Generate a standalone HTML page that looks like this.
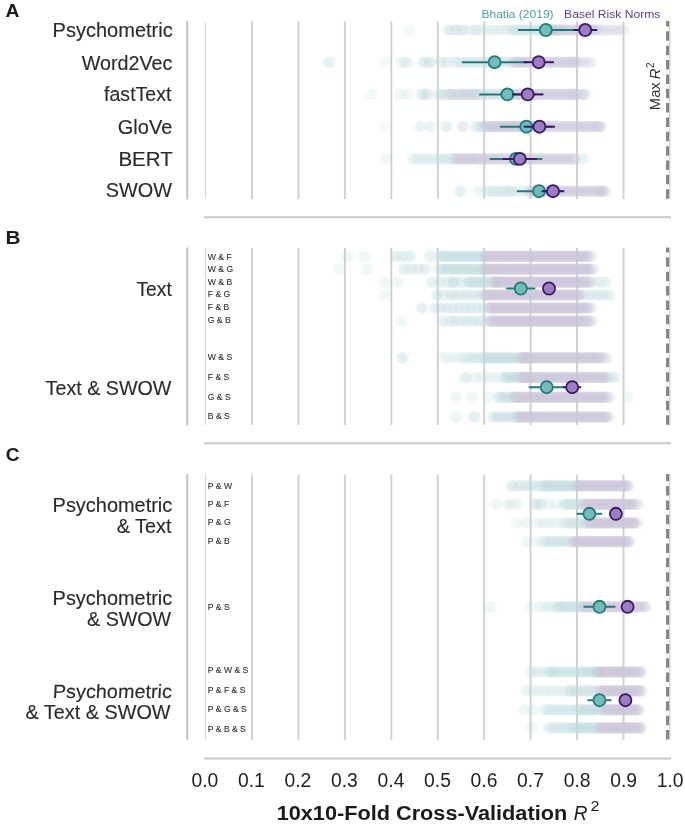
<!DOCTYPE html>
<html><head><meta charset="utf-8"><style>
html,body{margin:0;padding:0;background:#fff;}
svg{display:block;filter:blur(0.35px);font-family:"Liberation Sans", sans-serif;}
</style></head><body>
<svg width="685" height="825" viewBox="0 0 685 825" font-family='"Liberation Sans", sans-serif'>
<rect width="685" height="825" fill="#fff"/>
<line x1="187.2" y1="21.0" x2="187.2" y2="199.5" stroke="#c4c4c4" stroke-width="2"/>
<line x1="205.4" y1="21.5" x2="205.4" y2="199.0" stroke="#d9d9d9" stroke-width="1.3"/>
<line x1="252.0" y1="21.5" x2="252.0" y2="199.0" stroke="#cfcfcf" stroke-width="1.9"/>
<line x1="298.5" y1="21.5" x2="298.5" y2="199.0" stroke="#cfcfcf" stroke-width="1.9"/>
<line x1="344.9" y1="21.5" x2="344.9" y2="199.0" stroke="#cfcfcf" stroke-width="1.9"/>
<line x1="391.3" y1="21.5" x2="391.3" y2="199.0" stroke="#cfcfcf" stroke-width="1.9"/>
<line x1="437.8" y1="21.5" x2="437.8" y2="199.0" stroke="#cfcfcf" stroke-width="1.9"/>
<line x1="484.2" y1="21.5" x2="484.2" y2="199.0" stroke="#cfcfcf" stroke-width="1.9"/>
<line x1="530.6" y1="21.5" x2="530.6" y2="199.0" stroke="#cfcfcf" stroke-width="1.9"/>
<line x1="577.0" y1="21.5" x2="577.0" y2="199.0" stroke="#cfcfcf" stroke-width="1.9"/>
<line x1="623.5" y1="21.5" x2="623.5" y2="199.0" stroke="#cfcfcf" stroke-width="1.9"/>
<line x1="669.8" y1="21.5" x2="669.8" y2="199.0" stroke="#dadada" stroke-width="1.4"/>
<line x1="187.2" y1="247.5" x2="187.2" y2="425.5" stroke="#c4c4c4" stroke-width="2"/>
<line x1="205.4" y1="248.0" x2="205.4" y2="425.0" stroke="#d9d9d9" stroke-width="1.3"/>
<line x1="252.0" y1="248.0" x2="252.0" y2="425.0" stroke="#cfcfcf" stroke-width="1.9"/>
<line x1="298.5" y1="248.0" x2="298.5" y2="425.0" stroke="#cfcfcf" stroke-width="1.9"/>
<line x1="344.9" y1="248.0" x2="344.9" y2="425.0" stroke="#cfcfcf" stroke-width="1.9"/>
<line x1="391.3" y1="248.0" x2="391.3" y2="425.0" stroke="#cfcfcf" stroke-width="1.9"/>
<line x1="437.8" y1="248.0" x2="437.8" y2="425.0" stroke="#cfcfcf" stroke-width="1.9"/>
<line x1="484.2" y1="248.0" x2="484.2" y2="425.0" stroke="#cfcfcf" stroke-width="1.9"/>
<line x1="530.6" y1="248.0" x2="530.6" y2="425.0" stroke="#cfcfcf" stroke-width="1.9"/>
<line x1="577.0" y1="248.0" x2="577.0" y2="425.0" stroke="#cfcfcf" stroke-width="1.9"/>
<line x1="623.5" y1="248.0" x2="623.5" y2="425.0" stroke="#cfcfcf" stroke-width="1.9"/>
<line x1="669.8" y1="248.0" x2="669.8" y2="425.0" stroke="#dadada" stroke-width="1.4"/>
<line x1="187.2" y1="474.0" x2="187.2" y2="740.3" stroke="#c4c4c4" stroke-width="2"/>
<line x1="205.4" y1="474.5" x2="205.4" y2="739.8" stroke="#d9d9d9" stroke-width="1.3"/>
<line x1="252.0" y1="474.5" x2="252.0" y2="739.8" stroke="#cfcfcf" stroke-width="1.9"/>
<line x1="298.5" y1="474.5" x2="298.5" y2="739.8" stroke="#cfcfcf" stroke-width="1.9"/>
<line x1="344.9" y1="474.5" x2="344.9" y2="739.8" stroke="#cfcfcf" stroke-width="1.9"/>
<line x1="391.3" y1="474.5" x2="391.3" y2="739.8" stroke="#cfcfcf" stroke-width="1.9"/>
<line x1="437.8" y1="474.5" x2="437.8" y2="739.8" stroke="#cfcfcf" stroke-width="1.9"/>
<line x1="484.2" y1="474.5" x2="484.2" y2="739.8" stroke="#cfcfcf" stroke-width="1.9"/>
<line x1="530.6" y1="474.5" x2="530.6" y2="739.8" stroke="#cfcfcf" stroke-width="1.9"/>
<line x1="577.0" y1="474.5" x2="577.0" y2="739.8" stroke="#cfcfcf" stroke-width="1.9"/>
<line x1="623.5" y1="474.5" x2="623.5" y2="739.8" stroke="#cfcfcf" stroke-width="1.9"/>
<line x1="669.8" y1="474.5" x2="669.8" y2="739.8" stroke="#dadada" stroke-width="1.4"/>
<filter id="bl" x="-5%" y="-50%" width="110%" height="200%"><feGaussianBlur stdDeviation="1.0 0.5"/></filter>
<g filter="url(#bl)">
<g fill="#bcdadc">
<circle cx="409.2" cy="30.0" r="5.8" fill-opacity="0.18"/>
<circle cx="449.0" cy="30.0" r="5.8" fill-opacity="0.42"/>
<circle cx="456.0" cy="30.0" r="5.8" fill-opacity="0.42"/>
<circle cx="462.5" cy="30.0" r="5.8" fill-opacity="0.42"/>
<circle cx="470.0" cy="30.0" r="5.8" fill-opacity="0.25"/>
<circle cx="476.0" cy="30.0" r="5.8" fill-opacity="0.4"/>
<circle cx="482.0" cy="30.0" r="5.8" fill-opacity="0.25"/>
<circle cx="488.0" cy="30.0" r="5.8" fill-opacity="0.28"/>
<circle cx="494.0" cy="30.0" r="5.8" fill-opacity="0.28"/>
<circle cx="500.0" cy="30.0" r="5.8" fill-opacity="0.28"/>
<circle cx="506.0" cy="30.0" r="5.8" fill-opacity="0.28"/>
<circle cx="512.0" cy="30.0" r="5.8" fill-opacity="0.28"/>
<circle cx="514.0" cy="30.0" r="5.8" fill-opacity="0.34"/>
<circle cx="518.0" cy="30.0" r="5.8" fill-opacity="0.34"/>
<circle cx="522.0" cy="30.0" r="5.8" fill-opacity="0.34"/>
<circle cx="526.0" cy="30.0" r="5.8" fill-opacity="0.34"/>
<circle cx="530.0" cy="30.0" r="5.8" fill-opacity="0.34"/>
<circle cx="534.0" cy="30.0" r="5.8" fill-opacity="0.34"/>
<circle cx="538.0" cy="30.0" r="5.8" fill-opacity="0.34"/>
<circle cx="542.0" cy="30.0" r="5.8" fill-opacity="0.34"/>
<circle cx="546.0" cy="30.0" r="5.8" fill-opacity="0.34"/>
<circle cx="550.0" cy="30.0" r="5.8" fill-opacity="0.34"/>
<circle cx="554.0" cy="30.0" r="5.8" fill-opacity="0.34"/>
<circle cx="558.0" cy="30.0" r="5.8" fill-opacity="0.34"/>
<circle cx="329.3" cy="62.2" r="5.8" fill-opacity="0.38"/>
<circle cx="385.4" cy="62.2" r="5.8" fill-opacity="0.15"/>
<circle cx="402.0" cy="62.2" r="5.8" fill-opacity="0.3"/>
<circle cx="407.0" cy="62.2" r="5.8" fill-opacity="0.3"/>
<circle cx="424.0" cy="62.2" r="5.8" fill-opacity="0.42"/>
<circle cx="430.0" cy="62.2" r="5.8" fill-opacity="0.45"/>
<circle cx="441.0" cy="62.2" r="5.8" fill-opacity="0.35"/>
<circle cx="447.0" cy="62.2" r="5.8" fill-opacity="0.35"/>
<circle cx="455.0" cy="62.2" r="5.8" fill-opacity="0.35"/>
<circle cx="460.0" cy="62.2" r="5.8" fill-opacity="0.34"/>
<circle cx="465.0" cy="62.2" r="5.8" fill-opacity="0.34"/>
<circle cx="470.0" cy="62.2" r="5.8" fill-opacity="0.34"/>
<circle cx="475.0" cy="62.2" r="5.8" fill-opacity="0.34"/>
<circle cx="480.0" cy="62.2" r="5.8" fill-opacity="0.34"/>
<circle cx="485.0" cy="62.2" r="5.8" fill-opacity="0.34"/>
<circle cx="490.0" cy="62.2" r="5.8" fill-opacity="0.34"/>
<circle cx="495.0" cy="62.2" r="5.8" fill-opacity="0.34"/>
<circle cx="500.0" cy="62.2" r="5.8" fill-opacity="0.34"/>
<circle cx="505.0" cy="62.2" r="5.8" fill-opacity="0.34"/>
<circle cx="510.0" cy="62.2" r="5.8" fill-opacity="0.34"/>
<circle cx="515.0" cy="62.2" r="5.8" fill-opacity="0.34"/>
<circle cx="520.0" cy="62.2" r="5.8" fill-opacity="0.34"/>
<circle cx="371.2" cy="94.4" r="5.8" fill-opacity="0.2"/>
<circle cx="399.9" cy="94.4" r="5.8" fill-opacity="0.2"/>
<circle cx="407.0" cy="94.4" r="5.8" fill-opacity="0.2"/>
<circle cx="422.3" cy="94.4" r="5.8" fill-opacity="0.42"/>
<circle cx="427.4" cy="94.4" r="5.8" fill-opacity="0.42"/>
<circle cx="440.7" cy="94.4" r="5.8" fill-opacity="0.3"/>
<circle cx="440.0" cy="94.4" r="5.8" fill-opacity="0.3"/>
<circle cx="445.0" cy="94.4" r="5.8" fill-opacity="0.3"/>
<circle cx="450.0" cy="94.4" r="5.8" fill-opacity="0.3"/>
<circle cx="455.0" cy="94.4" r="5.8" fill-opacity="0.3"/>
<circle cx="460.0" cy="94.4" r="5.8" fill-opacity="0.3"/>
<circle cx="465.0" cy="94.4" r="5.8" fill-opacity="0.3"/>
<circle cx="470.0" cy="94.4" r="5.8" fill-opacity="0.3"/>
<circle cx="475.0" cy="94.4" r="5.8" fill-opacity="0.3"/>
<circle cx="476.0" cy="94.4" r="5.8" fill-opacity="0.34"/>
<circle cx="480.0" cy="94.4" r="5.8" fill-opacity="0.34"/>
<circle cx="484.0" cy="94.4" r="5.8" fill-opacity="0.34"/>
<circle cx="488.0" cy="94.4" r="5.8" fill-opacity="0.34"/>
<circle cx="492.0" cy="94.4" r="5.8" fill-opacity="0.34"/>
<circle cx="496.0" cy="94.4" r="5.8" fill-opacity="0.34"/>
<circle cx="500.0" cy="94.4" r="5.8" fill-opacity="0.34"/>
<circle cx="504.0" cy="94.4" r="5.8" fill-opacity="0.34"/>
<circle cx="508.0" cy="94.4" r="5.8" fill-opacity="0.34"/>
<circle cx="512.0" cy="94.4" r="5.8" fill-opacity="0.34"/>
<circle cx="583.0" cy="94.4" r="5.8" fill-opacity="0.35"/>
<circle cx="384.3" cy="126.5" r="5.8" fill-opacity="0.15"/>
<circle cx="420.0" cy="126.5" r="5.8" fill-opacity="0.28"/>
<circle cx="430.3" cy="126.5" r="5.8" fill-opacity="0.28"/>
<circle cx="446.6" cy="126.5" r="5.8" fill-opacity="0.38"/>
<circle cx="476.0" cy="126.5" r="5.8" fill-opacity="0.34"/>
<circle cx="480.0" cy="126.5" r="5.8" fill-opacity="0.34"/>
<circle cx="484.0" cy="126.5" r="5.8" fill-opacity="0.34"/>
<circle cx="488.0" cy="126.5" r="5.8" fill-opacity="0.34"/>
<circle cx="492.0" cy="126.5" r="5.8" fill-opacity="0.34"/>
<circle cx="496.0" cy="126.5" r="5.8" fill-opacity="0.34"/>
<circle cx="500.0" cy="126.5" r="5.8" fill-opacity="0.34"/>
<circle cx="504.0" cy="126.5" r="5.8" fill-opacity="0.34"/>
<circle cx="508.0" cy="126.5" r="5.8" fill-opacity="0.34"/>
<circle cx="512.0" cy="126.5" r="5.8" fill-opacity="0.34"/>
<circle cx="516.0" cy="126.5" r="5.8" fill-opacity="0.34"/>
<circle cx="520.0" cy="126.5" r="5.8" fill-opacity="0.34"/>
<circle cx="524.0" cy="126.5" r="5.8" fill-opacity="0.34"/>
<circle cx="528.0" cy="126.5" r="5.8" fill-opacity="0.34"/>
<circle cx="600.0" cy="126.5" r="5.8" fill-opacity="0.35"/>
<circle cx="386.3" cy="158.9" r="5.8" fill-opacity="0.2"/>
<circle cx="413.0" cy="158.9" r="5.8" fill-opacity="0.28"/>
<circle cx="418.0" cy="158.9" r="5.8" fill-opacity="0.28"/>
<circle cx="423.0" cy="158.9" r="5.8" fill-opacity="0.28"/>
<circle cx="428.0" cy="158.9" r="5.8" fill-opacity="0.28"/>
<circle cx="433.0" cy="158.9" r="5.8" fill-opacity="0.28"/>
<circle cx="439.5" cy="158.9" r="5.8" fill-opacity="0.35"/>
<circle cx="444.5" cy="158.9" r="5.8" fill-opacity="0.35"/>
<circle cx="449.5" cy="158.9" r="5.8" fill-opacity="0.35"/>
<circle cx="454.5" cy="158.9" r="5.8" fill-opacity="0.35"/>
<circle cx="583.0" cy="158.9" r="5.8" fill-opacity="0.3"/>
<circle cx="460.4" cy="191.2" r="5.8" fill-opacity="0.4"/>
<circle cx="479.9" cy="191.2" r="5.8" fill-opacity="0.25"/>
<circle cx="487.0" cy="191.2" r="5.8" fill-opacity="0.3"/>
<circle cx="491.0" cy="191.2" r="5.8" fill-opacity="0.3"/>
<circle cx="495.0" cy="191.2" r="5.8" fill-opacity="0.3"/>
<circle cx="499.0" cy="191.2" r="5.8" fill-opacity="0.3"/>
<circle cx="503.0" cy="191.2" r="5.8" fill-opacity="0.3"/>
<circle cx="507.0" cy="191.2" r="5.8" fill-opacity="0.3"/>
<circle cx="511.0" cy="191.2" r="5.8" fill-opacity="0.3"/>
<circle cx="512.0" cy="191.2" r="5.8" fill-opacity="0.22"/>
<circle cx="517.0" cy="191.2" r="5.8" fill-opacity="0.22"/>
<circle cx="522.0" cy="191.2" r="5.8" fill-opacity="0.22"/>
<circle cx="527.0" cy="191.2" r="5.8" fill-opacity="0.22"/>
<circle cx="601.5" cy="191.2" r="5.8" fill-opacity="0.45"/>
<circle cx="347.0" cy="256.4" r="5.8" fill-opacity="0.22"/>
<circle cx="364.0" cy="256.4" r="5.8" fill-opacity="0.22"/>
<circle cx="396.0" cy="256.4" r="5.8" fill-opacity="0.35"/>
<circle cx="403.0" cy="256.4" r="5.8" fill-opacity="0.35"/>
<circle cx="410.0" cy="256.4" r="5.8" fill-opacity="0.35"/>
<circle cx="430.0" cy="256.4" r="5.8" fill-opacity="0.35"/>
<circle cx="440.0" cy="256.4" r="5.8" fill-opacity="0.42"/>
<circle cx="444.0" cy="256.4" r="5.8" fill-opacity="0.42"/>
<circle cx="448.0" cy="256.4" r="5.8" fill-opacity="0.42"/>
<circle cx="452.0" cy="256.4" r="5.8" fill-opacity="0.42"/>
<circle cx="456.0" cy="256.4" r="5.8" fill-opacity="0.42"/>
<circle cx="460.0" cy="256.4" r="5.8" fill-opacity="0.42"/>
<circle cx="464.0" cy="256.4" r="5.8" fill-opacity="0.42"/>
<circle cx="468.0" cy="256.4" r="5.8" fill-opacity="0.42"/>
<circle cx="472.0" cy="256.4" r="5.8" fill-opacity="0.42"/>
<circle cx="476.0" cy="256.4" r="5.8" fill-opacity="0.42"/>
<circle cx="480.0" cy="256.4" r="5.8" fill-opacity="0.42"/>
<circle cx="484.0" cy="256.4" r="5.8" fill-opacity="0.42"/>
<circle cx="339.0" cy="269.2" r="5.8" fill-opacity="0.22"/>
<circle cx="367.0" cy="269.2" r="5.8" fill-opacity="0.22"/>
<circle cx="404.0" cy="269.2" r="5.8" fill-opacity="0.35"/>
<circle cx="411.0" cy="269.2" r="5.8" fill-opacity="0.35"/>
<circle cx="418.0" cy="269.2" r="5.8" fill-opacity="0.35"/>
<circle cx="425.0" cy="269.2" r="5.8" fill-opacity="0.35"/>
<circle cx="440.0" cy="269.2" r="5.8" fill-opacity="0.42"/>
<circle cx="444.0" cy="269.2" r="5.8" fill-opacity="0.42"/>
<circle cx="448.0" cy="269.2" r="5.8" fill-opacity="0.42"/>
<circle cx="452.0" cy="269.2" r="5.8" fill-opacity="0.42"/>
<circle cx="456.0" cy="269.2" r="5.8" fill-opacity="0.42"/>
<circle cx="460.0" cy="269.2" r="5.8" fill-opacity="0.42"/>
<circle cx="464.0" cy="269.2" r="5.8" fill-opacity="0.42"/>
<circle cx="468.0" cy="269.2" r="5.8" fill-opacity="0.42"/>
<circle cx="472.0" cy="269.2" r="5.8" fill-opacity="0.42"/>
<circle cx="476.0" cy="269.2" r="5.8" fill-opacity="0.42"/>
<circle cx="480.0" cy="269.2" r="5.8" fill-opacity="0.42"/>
<circle cx="484.0" cy="269.2" r="5.8" fill-opacity="0.42"/>
<circle cx="385.0" cy="282.1" r="5.8" fill-opacity="0.22"/>
<circle cx="398.0" cy="282.1" r="5.8" fill-opacity="0.22"/>
<circle cx="432.0" cy="282.1" r="5.8" fill-opacity="0.35"/>
<circle cx="440.0" cy="282.1" r="5.8" fill-opacity="0.35"/>
<circle cx="447.0" cy="282.1" r="5.8" fill-opacity="0.35"/>
<circle cx="454.0" cy="282.1" r="5.8" fill-opacity="0.35"/>
<circle cx="461.0" cy="282.1" r="5.8" fill-opacity="0.35"/>
<circle cx="468.0" cy="282.1" r="5.8" fill-opacity="0.35"/>
<circle cx="453.0" cy="282.1" r="5.8" fill-opacity="0.35"/>
<circle cx="470.0" cy="282.1" r="5.8" fill-opacity="0.42"/>
<circle cx="474.0" cy="282.1" r="5.8" fill-opacity="0.42"/>
<circle cx="478.0" cy="282.1" r="5.8" fill-opacity="0.42"/>
<circle cx="482.0" cy="282.1" r="5.8" fill-opacity="0.42"/>
<circle cx="486.0" cy="282.1" r="5.8" fill-opacity="0.42"/>
<circle cx="490.0" cy="282.1" r="5.8" fill-opacity="0.42"/>
<circle cx="494.0" cy="282.1" r="5.8" fill-opacity="0.42"/>
<circle cx="498.0" cy="282.1" r="5.8" fill-opacity="0.42"/>
<circle cx="600.0" cy="282.1" r="5.8" fill-opacity="0.3"/>
<circle cx="606.0" cy="282.1" r="5.8" fill-opacity="0.3"/>
<circle cx="385.0" cy="295.0" r="5.8" fill-opacity="0.22"/>
<circle cx="437.0" cy="295.0" r="5.8" fill-opacity="0.35"/>
<circle cx="444.0" cy="295.0" r="5.8" fill-opacity="0.35"/>
<circle cx="451.0" cy="295.0" r="5.8" fill-opacity="0.35"/>
<circle cx="455.0" cy="295.0" r="5.8" fill-opacity="0.35"/>
<circle cx="461.0" cy="295.0" r="5.8" fill-opacity="0.35"/>
<circle cx="467.0" cy="295.0" r="5.8" fill-opacity="0.35"/>
<circle cx="473.0" cy="295.0" r="5.8" fill-opacity="0.35"/>
<circle cx="479.0" cy="295.0" r="5.8" fill-opacity="0.35"/>
<circle cx="485.0" cy="295.0" r="5.8" fill-opacity="0.35"/>
<circle cx="585.0" cy="295.0" r="5.8" fill-opacity="0.35"/>
<circle cx="591.0" cy="295.0" r="5.8" fill-opacity="0.35"/>
<circle cx="597.0" cy="295.0" r="5.8" fill-opacity="0.35"/>
<circle cx="603.0" cy="295.0" r="5.8" fill-opacity="0.35"/>
<circle cx="609.0" cy="295.0" r="5.8" fill-opacity="0.35"/>
<circle cx="422.0" cy="308.0" r="5.8" fill-opacity="0.35"/>
<circle cx="435.0" cy="308.0" r="5.8" fill-opacity="0.35"/>
<circle cx="441.0" cy="308.0" r="5.8" fill-opacity="0.35"/>
<circle cx="447.0" cy="308.0" r="5.8" fill-opacity="0.35"/>
<circle cx="453.0" cy="308.0" r="5.8" fill-opacity="0.35"/>
<circle cx="459.0" cy="308.0" r="5.8" fill-opacity="0.35"/>
<circle cx="465.0" cy="308.0" r="5.8" fill-opacity="0.35"/>
<circle cx="471.0" cy="308.0" r="5.8" fill-opacity="0.35"/>
<circle cx="477.0" cy="308.0" r="5.8" fill-opacity="0.35"/>
<circle cx="483.0" cy="308.0" r="5.8" fill-opacity="0.35"/>
<circle cx="489.0" cy="308.0" r="5.8" fill-opacity="0.35"/>
<circle cx="401.0" cy="321.1" r="5.8" fill-opacity="0.22"/>
<circle cx="443.0" cy="321.1" r="5.8" fill-opacity="0.35"/>
<circle cx="451.0" cy="321.1" r="5.8" fill-opacity="0.35"/>
<circle cx="455.0" cy="321.1" r="5.8" fill-opacity="0.35"/>
<circle cx="461.0" cy="321.1" r="5.8" fill-opacity="0.35"/>
<circle cx="467.0" cy="321.1" r="5.8" fill-opacity="0.35"/>
<circle cx="473.0" cy="321.1" r="5.8" fill-opacity="0.35"/>
<circle cx="479.0" cy="321.1" r="5.8" fill-opacity="0.35"/>
<circle cx="485.0" cy="321.1" r="5.8" fill-opacity="0.35"/>
<circle cx="402.3" cy="357.9" r="5.8" fill-opacity="0.4"/>
<circle cx="443.0" cy="357.9" r="5.8" fill-opacity="0.22"/>
<circle cx="449.0" cy="357.9" r="5.8" fill-opacity="0.22"/>
<circle cx="455.0" cy="357.9" r="5.8" fill-opacity="0.22"/>
<circle cx="461.0" cy="357.9" r="5.8" fill-opacity="0.22"/>
<circle cx="466.0" cy="357.9" r="5.8" fill-opacity="0.35"/>
<circle cx="471.0" cy="357.9" r="5.8" fill-opacity="0.35"/>
<circle cx="476.0" cy="357.9" r="5.8" fill-opacity="0.35"/>
<circle cx="481.0" cy="357.9" r="5.8" fill-opacity="0.35"/>
<circle cx="485.0" cy="357.9" r="5.8" fill-opacity="0.42"/>
<circle cx="488.5" cy="357.9" r="5.8" fill-opacity="0.42"/>
<circle cx="492.0" cy="357.9" r="5.8" fill-opacity="0.42"/>
<circle cx="495.5" cy="357.9" r="5.8" fill-opacity="0.42"/>
<circle cx="499.0" cy="357.9" r="5.8" fill-opacity="0.42"/>
<circle cx="502.5" cy="357.9" r="5.8" fill-opacity="0.42"/>
<circle cx="506.0" cy="357.9" r="5.8" fill-opacity="0.42"/>
<circle cx="509.5" cy="357.9" r="5.8" fill-opacity="0.42"/>
<circle cx="513.0" cy="357.9" r="5.8" fill-opacity="0.42"/>
<circle cx="516.5" cy="357.9" r="5.8" fill-opacity="0.42"/>
<circle cx="520.0" cy="357.9" r="5.8" fill-opacity="0.42"/>
<circle cx="523.5" cy="357.9" r="5.8" fill-opacity="0.42"/>
<circle cx="527.0" cy="357.9" r="5.8" fill-opacity="0.42"/>
<circle cx="465.4" cy="377.5" r="5.8" fill-opacity="0.4"/>
<circle cx="475.0" cy="377.5" r="5.8" fill-opacity="0.22"/>
<circle cx="481.0" cy="377.5" r="5.8" fill-opacity="0.22"/>
<circle cx="487.0" cy="377.5" r="5.8" fill-opacity="0.22"/>
<circle cx="493.0" cy="377.5" r="5.8" fill-opacity="0.22"/>
<circle cx="499.0" cy="377.5" r="5.8" fill-opacity="0.22"/>
<circle cx="505.0" cy="377.5" r="5.8" fill-opacity="0.22"/>
<circle cx="506.0" cy="377.5" r="5.8" fill-opacity="0.42"/>
<circle cx="509.5" cy="377.5" r="5.8" fill-opacity="0.42"/>
<circle cx="513.0" cy="377.5" r="5.8" fill-opacity="0.42"/>
<circle cx="516.5" cy="377.5" r="5.8" fill-opacity="0.42"/>
<circle cx="520.0" cy="377.5" r="5.8" fill-opacity="0.42"/>
<circle cx="523.5" cy="377.5" r="5.8" fill-opacity="0.42"/>
<circle cx="527.0" cy="377.5" r="5.8" fill-opacity="0.42"/>
<circle cx="605.0" cy="377.5" r="5.8" fill-opacity="0.35"/>
<circle cx="610.0" cy="377.5" r="5.8" fill-opacity="0.35"/>
<circle cx="615.0" cy="377.5" r="5.8" fill-opacity="0.35"/>
<circle cx="456.0" cy="397.3" r="5.8" fill-opacity="0.22"/>
<circle cx="472.0" cy="397.3" r="5.8" fill-opacity="0.22"/>
<circle cx="488.0" cy="397.3" r="5.8" fill-opacity="0.22"/>
<circle cx="498.0" cy="397.3" r="5.8" fill-opacity="0.22"/>
<circle cx="500.0" cy="397.3" r="5.8" fill-opacity="0.35"/>
<circle cx="503.5" cy="397.3" r="5.8" fill-opacity="0.35"/>
<circle cx="507.0" cy="397.3" r="5.8" fill-opacity="0.35"/>
<circle cx="510.5" cy="397.3" r="5.8" fill-opacity="0.35"/>
<circle cx="514.0" cy="397.3" r="5.8" fill-opacity="0.35"/>
<circle cx="628.0" cy="397.3" r="5.8" fill-opacity="0.22"/>
<circle cx="456.0" cy="417.0" r="5.8" fill-opacity="0.22"/>
<circle cx="474.6" cy="417.0" r="5.8" fill-opacity="0.4"/>
<circle cx="493.0" cy="417.0" r="5.8" fill-opacity="0.35"/>
<circle cx="497.0" cy="417.0" r="5.8" fill-opacity="0.35"/>
<circle cx="501.0" cy="417.0" r="5.8" fill-opacity="0.35"/>
<circle cx="505.0" cy="417.0" r="5.8" fill-opacity="0.35"/>
<circle cx="509.0" cy="417.0" r="5.8" fill-opacity="0.35"/>
<circle cx="513.0" cy="417.0" r="5.8" fill-opacity="0.35"/>
<circle cx="517.0" cy="417.0" r="5.8" fill-opacity="0.35"/>
<circle cx="521.0" cy="417.0" r="5.8" fill-opacity="0.35"/>
<circle cx="525.0" cy="417.0" r="5.8" fill-opacity="0.35"/>
<circle cx="529.0" cy="417.0" r="5.8" fill-opacity="0.35"/>
<circle cx="512.0" cy="485.9" r="5.8" fill-opacity="0.42"/>
<circle cx="519.0" cy="485.9" r="5.8" fill-opacity="0.42"/>
<circle cx="526.0" cy="485.9" r="5.8" fill-opacity="0.35"/>
<circle cx="531.0" cy="485.9" r="5.8" fill-opacity="0.35"/>
<circle cx="536.0" cy="485.9" r="5.8" fill-opacity="0.35"/>
<circle cx="541.0" cy="485.9" r="5.8" fill-opacity="0.35"/>
<circle cx="546.0" cy="485.9" r="5.8" fill-opacity="0.35"/>
<circle cx="546.0" cy="485.9" r="5.8" fill-opacity="0.42"/>
<circle cx="549.5" cy="485.9" r="5.8" fill-opacity="0.42"/>
<circle cx="553.0" cy="485.9" r="5.8" fill-opacity="0.42"/>
<circle cx="556.5" cy="485.9" r="5.8" fill-opacity="0.42"/>
<circle cx="560.0" cy="485.9" r="5.8" fill-opacity="0.42"/>
<circle cx="563.5" cy="485.9" r="5.8" fill-opacity="0.42"/>
<circle cx="567.0" cy="485.9" r="5.8" fill-opacity="0.42"/>
<circle cx="570.5" cy="485.9" r="5.8" fill-opacity="0.42"/>
<circle cx="574.0" cy="485.9" r="5.8" fill-opacity="0.42"/>
<circle cx="577.5" cy="485.9" r="5.8" fill-opacity="0.42"/>
<circle cx="496.0" cy="504.3" r="5.8" fill-opacity="0.22"/>
<circle cx="507.0" cy="504.3" r="5.8" fill-opacity="0.22"/>
<circle cx="511.0" cy="504.3" r="5.8" fill-opacity="0.22"/>
<circle cx="517.0" cy="504.3" r="5.8" fill-opacity="0.22"/>
<circle cx="536.0" cy="504.3" r="5.8" fill-opacity="0.45"/>
<circle cx="541.0" cy="504.3" r="5.8" fill-opacity="0.4"/>
<circle cx="549.0" cy="504.3" r="5.8" fill-opacity="0.22"/>
<circle cx="557.0" cy="504.3" r="5.8" fill-opacity="0.22"/>
<circle cx="565.0" cy="504.3" r="5.8" fill-opacity="0.22"/>
<circle cx="565.0" cy="504.3" r="5.8" fill-opacity="0.35"/>
<circle cx="569.0" cy="504.3" r="5.8" fill-opacity="0.35"/>
<circle cx="573.0" cy="504.3" r="5.8" fill-opacity="0.35"/>
<circle cx="577.0" cy="504.3" r="5.8" fill-opacity="0.35"/>
<circle cx="581.0" cy="504.3" r="5.8" fill-opacity="0.35"/>
<circle cx="517.0" cy="523.0" r="5.8" fill-opacity="0.22"/>
<circle cx="527.0" cy="523.0" r="5.8" fill-opacity="0.22"/>
<circle cx="537.0" cy="523.0" r="5.8" fill-opacity="0.22"/>
<circle cx="543.0" cy="523.0" r="5.8" fill-opacity="0.22"/>
<circle cx="549.0" cy="523.0" r="5.8" fill-opacity="0.22"/>
<circle cx="555.0" cy="523.0" r="5.8" fill-opacity="0.22"/>
<circle cx="561.0" cy="523.0" r="5.8" fill-opacity="0.22"/>
<circle cx="566.0" cy="523.0" r="5.8" fill-opacity="0.35"/>
<circle cx="570.0" cy="523.0" r="5.8" fill-opacity="0.35"/>
<circle cx="574.0" cy="523.0" r="5.8" fill-opacity="0.35"/>
<circle cx="578.0" cy="523.0" r="5.8" fill-opacity="0.35"/>
<circle cx="582.0" cy="523.0" r="5.8" fill-opacity="0.35"/>
<circle cx="586.0" cy="523.0" r="5.8" fill-opacity="0.35"/>
<circle cx="527.0" cy="541.6" r="5.8" fill-opacity="0.22"/>
<circle cx="537.0" cy="541.6" r="5.8" fill-opacity="0.22"/>
<circle cx="544.0" cy="541.6" r="5.8" fill-opacity="0.38"/>
<circle cx="548.5" cy="541.6" r="5.8" fill-opacity="0.38"/>
<circle cx="553.0" cy="541.6" r="5.8" fill-opacity="0.38"/>
<circle cx="557.5" cy="541.6" r="5.8" fill-opacity="0.38"/>
<circle cx="562.0" cy="541.6" r="5.8" fill-opacity="0.38"/>
<circle cx="566.5" cy="541.6" r="5.8" fill-opacity="0.38"/>
<circle cx="571.0" cy="541.6" r="5.8" fill-opacity="0.38"/>
<circle cx="490.8" cy="606.8" r="5.8" fill-opacity="0.22"/>
<circle cx="531.0" cy="606.8" r="5.8" fill-opacity="0.22"/>
<circle cx="541.0" cy="606.8" r="5.8" fill-opacity="0.28"/>
<circle cx="547.0" cy="606.8" r="5.8" fill-opacity="0.28"/>
<circle cx="553.0" cy="606.8" r="5.8" fill-opacity="0.28"/>
<circle cx="559.0" cy="606.8" r="5.8" fill-opacity="0.28"/>
<circle cx="559.0" cy="606.8" r="5.8" fill-opacity="0.38"/>
<circle cx="563.0" cy="606.8" r="5.8" fill-opacity="0.38"/>
<circle cx="567.0" cy="606.8" r="5.8" fill-opacity="0.38"/>
<circle cx="571.0" cy="606.8" r="5.8" fill-opacity="0.38"/>
<circle cx="573.0" cy="606.8" r="5.8" fill-opacity="0.35"/>
<circle cx="577.0" cy="606.8" r="5.8" fill-opacity="0.35"/>
<circle cx="581.0" cy="606.8" r="5.8" fill-opacity="0.35"/>
<circle cx="585.0" cy="606.8" r="5.8" fill-opacity="0.35"/>
<circle cx="589.0" cy="606.8" r="5.8" fill-opacity="0.35"/>
<circle cx="593.0" cy="606.8" r="5.8" fill-opacity="0.35"/>
<circle cx="597.0" cy="606.8" r="5.8" fill-opacity="0.35"/>
<circle cx="531.0" cy="672.0" r="5.8" fill-opacity="0.28"/>
<circle cx="536.0" cy="672.0" r="5.8" fill-opacity="0.28"/>
<circle cx="541.0" cy="672.0" r="5.8" fill-opacity="0.28"/>
<circle cx="546.0" cy="672.0" r="5.8" fill-opacity="0.28"/>
<circle cx="551.0" cy="672.0" r="5.8" fill-opacity="0.28"/>
<circle cx="551.0" cy="672.0" r="5.8" fill-opacity="0.35"/>
<circle cx="555.0" cy="672.0" r="5.8" fill-opacity="0.35"/>
<circle cx="559.0" cy="672.0" r="5.8" fill-opacity="0.35"/>
<circle cx="563.0" cy="672.0" r="5.8" fill-opacity="0.35"/>
<circle cx="567.0" cy="672.0" r="5.8" fill-opacity="0.35"/>
<circle cx="571.0" cy="672.0" r="5.8" fill-opacity="0.35"/>
<circle cx="575.0" cy="672.0" r="5.8" fill-opacity="0.35"/>
<circle cx="579.0" cy="672.0" r="5.8" fill-opacity="0.35"/>
<circle cx="583.0" cy="672.0" r="5.8" fill-opacity="0.42"/>
<circle cx="586.5" cy="672.0" r="5.8" fill-opacity="0.42"/>
<circle cx="590.0" cy="672.0" r="5.8" fill-opacity="0.42"/>
<circle cx="593.5" cy="672.0" r="5.8" fill-opacity="0.42"/>
<circle cx="597.0" cy="672.0" r="5.8" fill-opacity="0.42"/>
<circle cx="600.5" cy="672.0" r="5.8" fill-opacity="0.42"/>
<circle cx="527.0" cy="690.9" r="5.8" fill-opacity="0.25"/>
<circle cx="533.0" cy="690.9" r="5.8" fill-opacity="0.25"/>
<circle cx="539.0" cy="690.9" r="5.8" fill-opacity="0.25"/>
<circle cx="545.0" cy="690.9" r="5.8" fill-opacity="0.25"/>
<circle cx="551.0" cy="690.9" r="5.8" fill-opacity="0.25"/>
<circle cx="557.0" cy="690.9" r="5.8" fill-opacity="0.25"/>
<circle cx="563.0" cy="690.9" r="5.8" fill-opacity="0.25"/>
<circle cx="569.0" cy="690.9" r="5.8" fill-opacity="0.25"/>
<circle cx="570.0" cy="690.9" r="5.8" fill-opacity="0.35"/>
<circle cx="574.0" cy="690.9" r="5.8" fill-opacity="0.35"/>
<circle cx="578.0" cy="690.9" r="5.8" fill-opacity="0.35"/>
<circle cx="582.0" cy="690.9" r="5.8" fill-opacity="0.35"/>
<circle cx="586.0" cy="690.9" r="5.8" fill-opacity="0.35"/>
<circle cx="590.0" cy="690.9" r="5.8" fill-opacity="0.35"/>
<circle cx="594.0" cy="690.9" r="5.8" fill-opacity="0.35"/>
<circle cx="598.0" cy="690.9" r="5.8" fill-opacity="0.35"/>
<circle cx="524.0" cy="709.8" r="5.8" fill-opacity="0.22"/>
<circle cx="533.0" cy="709.8" r="5.8" fill-opacity="0.22"/>
<circle cx="545.0" cy="709.8" r="5.8" fill-opacity="0.32"/>
<circle cx="549.5" cy="709.8" r="5.8" fill-opacity="0.32"/>
<circle cx="554.0" cy="709.8" r="5.8" fill-opacity="0.32"/>
<circle cx="558.5" cy="709.8" r="5.8" fill-opacity="0.32"/>
<circle cx="563.0" cy="709.8" r="5.8" fill-opacity="0.32"/>
<circle cx="567.5" cy="709.8" r="5.8" fill-opacity="0.32"/>
<circle cx="572.0" cy="709.8" r="5.8" fill-opacity="0.32"/>
<circle cx="576.5" cy="709.8" r="5.8" fill-opacity="0.32"/>
<circle cx="580.0" cy="709.8" r="5.8" fill-opacity="0.42"/>
<circle cx="583.5" cy="709.8" r="5.8" fill-opacity="0.42"/>
<circle cx="587.0" cy="709.8" r="5.8" fill-opacity="0.42"/>
<circle cx="590.5" cy="709.8" r="5.8" fill-opacity="0.42"/>
<circle cx="594.0" cy="709.8" r="5.8" fill-opacity="0.42"/>
<circle cx="597.5" cy="709.8" r="5.8" fill-opacity="0.42"/>
<circle cx="601.0" cy="709.8" r="5.8" fill-opacity="0.42"/>
<circle cx="604.5" cy="709.8" r="5.8" fill-opacity="0.42"/>
<circle cx="531.0" cy="727.9" r="5.8" fill-opacity="0.22"/>
<circle cx="549.0" cy="727.9" r="5.8" fill-opacity="0.35"/>
<circle cx="553.5" cy="727.9" r="5.8" fill-opacity="0.35"/>
<circle cx="558.0" cy="727.9" r="5.8" fill-opacity="0.35"/>
<circle cx="562.5" cy="727.9" r="5.8" fill-opacity="0.35"/>
<circle cx="567.0" cy="727.9" r="5.8" fill-opacity="0.35"/>
<circle cx="571.5" cy="727.9" r="5.8" fill-opacity="0.35"/>
<circle cx="575.0" cy="727.9" r="5.8" fill-opacity="0.42"/>
<circle cx="578.5" cy="727.9" r="5.8" fill-opacity="0.42"/>
<circle cx="582.0" cy="727.9" r="5.8" fill-opacity="0.42"/>
<circle cx="585.5" cy="727.9" r="5.8" fill-opacity="0.42"/>
<circle cx="589.0" cy="727.9" r="5.8" fill-opacity="0.42"/>
<circle cx="592.5" cy="727.9" r="5.8" fill-opacity="0.42"/>
<circle cx="596.0" cy="727.9" r="5.8" fill-opacity="0.42"/>
<circle cx="599.5" cy="727.9" r="5.8" fill-opacity="0.42"/>
</g>
<g fill="#cbc6d9">
<circle cx="545.0" cy="30.0" r="5.8" fill-opacity="0.38"/>
<circle cx="548.0" cy="30.0" r="5.8" fill-opacity="0.38"/>
<circle cx="551.0" cy="30.0" r="5.8" fill-opacity="0.38"/>
<circle cx="554.0" cy="30.0" r="5.8" fill-opacity="0.38"/>
<circle cx="557.0" cy="30.0" r="5.8" fill-opacity="0.38"/>
<circle cx="560.0" cy="30.0" r="5.8" fill-opacity="0.38"/>
<circle cx="563.0" cy="30.0" r="5.8" fill-opacity="0.38"/>
<circle cx="566.0" cy="30.0" r="5.8" fill-opacity="0.38"/>
<circle cx="569.0" cy="30.0" r="5.8" fill-opacity="0.38"/>
<circle cx="572.0" cy="30.0" r="5.8" fill-opacity="0.38"/>
<circle cx="575.0" cy="30.0" r="5.8" fill-opacity="0.38"/>
<circle cx="578.0" cy="30.0" r="5.8" fill-opacity="0.38"/>
<circle cx="581.0" cy="30.0" r="5.8" fill-opacity="0.38"/>
<circle cx="584.0" cy="30.0" r="5.8" fill-opacity="0.38"/>
<circle cx="587.0" cy="30.0" r="5.8" fill-opacity="0.38"/>
<circle cx="590.0" cy="30.0" r="5.8" fill-opacity="0.38"/>
<circle cx="593.0" cy="30.0" r="5.8" fill-opacity="0.38"/>
<circle cx="596.0" cy="30.0" r="5.8" fill-opacity="0.38"/>
<circle cx="598.0" cy="30.0" r="5.8" fill-opacity="0.3"/>
<circle cx="603.0" cy="30.0" r="5.8" fill-opacity="0.3"/>
<circle cx="608.0" cy="30.0" r="5.8" fill-opacity="0.3"/>
<circle cx="613.0" cy="30.0" r="5.8" fill-opacity="0.3"/>
<circle cx="618.0" cy="30.0" r="5.8" fill-opacity="0.3"/>
<circle cx="623.0" cy="30.0" r="5.8" fill-opacity="0.3"/>
<circle cx="515.0" cy="62.2" r="5.8" fill-opacity="0.38"/>
<circle cx="518.0" cy="62.2" r="5.8" fill-opacity="0.38"/>
<circle cx="521.0" cy="62.2" r="5.8" fill-opacity="0.38"/>
<circle cx="524.0" cy="62.2" r="5.8" fill-opacity="0.38"/>
<circle cx="527.0" cy="62.2" r="5.8" fill-opacity="0.38"/>
<circle cx="530.0" cy="62.2" r="5.8" fill-opacity="0.38"/>
<circle cx="533.0" cy="62.2" r="5.8" fill-opacity="0.38"/>
<circle cx="536.0" cy="62.2" r="5.8" fill-opacity="0.38"/>
<circle cx="539.0" cy="62.2" r="5.8" fill-opacity="0.38"/>
<circle cx="542.0" cy="62.2" r="5.8" fill-opacity="0.38"/>
<circle cx="545.0" cy="62.2" r="5.8" fill-opacity="0.38"/>
<circle cx="548.0" cy="62.2" r="5.8" fill-opacity="0.38"/>
<circle cx="551.0" cy="62.2" r="5.8" fill-opacity="0.38"/>
<circle cx="554.0" cy="62.2" r="5.8" fill-opacity="0.38"/>
<circle cx="557.0" cy="62.2" r="5.8" fill-opacity="0.38"/>
<circle cx="560.0" cy="62.2" r="5.8" fill-opacity="0.38"/>
<circle cx="563.0" cy="62.2" r="5.8" fill-opacity="0.38"/>
<circle cx="566.0" cy="62.2" r="5.8" fill-opacity="0.38"/>
<circle cx="569.0" cy="62.2" r="5.8" fill-opacity="0.38"/>
<circle cx="572.0" cy="62.2" r="5.8" fill-opacity="0.38"/>
<circle cx="575.0" cy="62.2" r="5.8" fill-opacity="0.38"/>
<circle cx="575.0" cy="62.2" r="5.8" fill-opacity="0.3"/>
<circle cx="580.0" cy="62.2" r="5.8" fill-opacity="0.3"/>
<circle cx="585.0" cy="62.2" r="5.8" fill-opacity="0.3"/>
<circle cx="590.0" cy="62.2" r="5.8" fill-opacity="0.3"/>
<circle cx="451.0" cy="94.4" r="5.8" fill-opacity="0.4"/>
<circle cx="458.0" cy="94.4" r="5.8" fill-opacity="0.3"/>
<circle cx="463.0" cy="94.4" r="5.8" fill-opacity="0.3"/>
<circle cx="468.0" cy="94.4" r="5.8" fill-opacity="0.3"/>
<circle cx="473.0" cy="94.4" r="5.8" fill-opacity="0.3"/>
<circle cx="515.0" cy="94.4" r="5.8" fill-opacity="0.38"/>
<circle cx="518.0" cy="94.4" r="5.8" fill-opacity="0.38"/>
<circle cx="521.0" cy="94.4" r="5.8" fill-opacity="0.38"/>
<circle cx="524.0" cy="94.4" r="5.8" fill-opacity="0.38"/>
<circle cx="527.0" cy="94.4" r="5.8" fill-opacity="0.38"/>
<circle cx="530.0" cy="94.4" r="5.8" fill-opacity="0.38"/>
<circle cx="533.0" cy="94.4" r="5.8" fill-opacity="0.38"/>
<circle cx="536.0" cy="94.4" r="5.8" fill-opacity="0.38"/>
<circle cx="539.0" cy="94.4" r="5.8" fill-opacity="0.38"/>
<circle cx="542.0" cy="94.4" r="5.8" fill-opacity="0.38"/>
<circle cx="545.0" cy="94.4" r="5.8" fill-opacity="0.38"/>
<circle cx="548.0" cy="94.4" r="5.8" fill-opacity="0.38"/>
<circle cx="551.0" cy="94.4" r="5.8" fill-opacity="0.38"/>
<circle cx="554.0" cy="94.4" r="5.8" fill-opacity="0.38"/>
<circle cx="557.0" cy="94.4" r="5.8" fill-opacity="0.38"/>
<circle cx="560.0" cy="94.4" r="5.8" fill-opacity="0.38"/>
<circle cx="563.0" cy="94.4" r="5.8" fill-opacity="0.38"/>
<circle cx="566.0" cy="94.4" r="5.8" fill-opacity="0.38"/>
<circle cx="569.0" cy="94.4" r="5.8" fill-opacity="0.38"/>
<circle cx="572.0" cy="94.4" r="5.8" fill-opacity="0.38"/>
<circle cx="575.0" cy="94.4" r="5.8" fill-opacity="0.38"/>
<circle cx="575.0" cy="94.4" r="5.8" fill-opacity="0.3"/>
<circle cx="580.0" cy="94.4" r="5.8" fill-opacity="0.3"/>
<circle cx="585.0" cy="94.4" r="5.8" fill-opacity="0.3"/>
<circle cx="463.0" cy="126.5" r="5.8" fill-opacity="0.35"/>
<circle cx="486.0" cy="126.5" r="5.8" fill-opacity="0.36"/>
<circle cx="489.0" cy="126.5" r="5.8" fill-opacity="0.36"/>
<circle cx="492.0" cy="126.5" r="5.8" fill-opacity="0.36"/>
<circle cx="495.0" cy="126.5" r="5.8" fill-opacity="0.36"/>
<circle cx="498.0" cy="126.5" r="5.8" fill-opacity="0.36"/>
<circle cx="501.0" cy="126.5" r="5.8" fill-opacity="0.36"/>
<circle cx="504.0" cy="126.5" r="5.8" fill-opacity="0.36"/>
<circle cx="507.0" cy="126.5" r="5.8" fill-opacity="0.36"/>
<circle cx="510.0" cy="126.5" r="5.8" fill-opacity="0.36"/>
<circle cx="513.0" cy="126.5" r="5.8" fill-opacity="0.36"/>
<circle cx="516.0" cy="126.5" r="5.8" fill-opacity="0.36"/>
<circle cx="519.0" cy="126.5" r="5.8" fill-opacity="0.36"/>
<circle cx="522.0" cy="126.5" r="5.8" fill-opacity="0.36"/>
<circle cx="525.0" cy="126.5" r="5.8" fill-opacity="0.36"/>
<circle cx="528.0" cy="126.5" r="5.8" fill-opacity="0.36"/>
<circle cx="531.0" cy="126.5" r="5.8" fill-opacity="0.36"/>
<circle cx="534.0" cy="126.5" r="5.8" fill-opacity="0.36"/>
<circle cx="537.0" cy="126.5" r="5.8" fill-opacity="0.36"/>
<circle cx="540.0" cy="126.5" r="5.8" fill-opacity="0.36"/>
<circle cx="543.0" cy="126.5" r="5.8" fill-opacity="0.36"/>
<circle cx="546.0" cy="126.5" r="5.8" fill-opacity="0.36"/>
<circle cx="549.0" cy="126.5" r="5.8" fill-opacity="0.36"/>
<circle cx="552.0" cy="126.5" r="5.8" fill-opacity="0.36"/>
<circle cx="555.0" cy="126.5" r="5.8" fill-opacity="0.36"/>
<circle cx="558.0" cy="126.5" r="5.8" fill-opacity="0.36"/>
<circle cx="561.0" cy="126.5" r="5.8" fill-opacity="0.36"/>
<circle cx="564.0" cy="126.5" r="5.8" fill-opacity="0.36"/>
<circle cx="567.0" cy="126.5" r="5.8" fill-opacity="0.36"/>
<circle cx="570.0" cy="126.5" r="5.8" fill-opacity="0.36"/>
<circle cx="573.0" cy="126.5" r="5.8" fill-opacity="0.36"/>
<circle cx="576.0" cy="126.5" r="5.8" fill-opacity="0.36"/>
<circle cx="579.0" cy="126.5" r="5.8" fill-opacity="0.36"/>
<circle cx="582.0" cy="126.5" r="5.8" fill-opacity="0.36"/>
<circle cx="585.0" cy="126.5" r="5.8" fill-opacity="0.36"/>
<circle cx="588.0" cy="126.5" r="5.8" fill-opacity="0.36"/>
<circle cx="591.0" cy="126.5" r="5.8" fill-opacity="0.36"/>
<circle cx="594.0" cy="126.5" r="5.8" fill-opacity="0.36"/>
<circle cx="597.0" cy="126.5" r="5.8" fill-opacity="0.36"/>
<circle cx="600.0" cy="126.5" r="5.8" fill-opacity="0.36"/>
<circle cx="456.0" cy="158.9" r="5.8" fill-opacity="0.42"/>
<circle cx="459.0" cy="158.9" r="5.8" fill-opacity="0.42"/>
<circle cx="462.0" cy="158.9" r="5.8" fill-opacity="0.42"/>
<circle cx="465.0" cy="158.9" r="5.8" fill-opacity="0.42"/>
<circle cx="468.0" cy="158.9" r="5.8" fill-opacity="0.42"/>
<circle cx="471.0" cy="158.9" r="5.8" fill-opacity="0.42"/>
<circle cx="474.0" cy="158.9" r="5.8" fill-opacity="0.42"/>
<circle cx="476.0" cy="158.9" r="5.8" fill-opacity="0.36"/>
<circle cx="479.0" cy="158.9" r="5.8" fill-opacity="0.36"/>
<circle cx="482.0" cy="158.9" r="5.8" fill-opacity="0.36"/>
<circle cx="485.0" cy="158.9" r="5.8" fill-opacity="0.36"/>
<circle cx="488.0" cy="158.9" r="5.8" fill-opacity="0.36"/>
<circle cx="491.0" cy="158.9" r="5.8" fill-opacity="0.36"/>
<circle cx="494.0" cy="158.9" r="5.8" fill-opacity="0.36"/>
<circle cx="497.0" cy="158.9" r="5.8" fill-opacity="0.36"/>
<circle cx="500.0" cy="158.9" r="5.8" fill-opacity="0.36"/>
<circle cx="503.0" cy="158.9" r="5.8" fill-opacity="0.36"/>
<circle cx="506.0" cy="158.9" r="5.8" fill-opacity="0.36"/>
<circle cx="509.0" cy="158.9" r="5.8" fill-opacity="0.36"/>
<circle cx="512.0" cy="158.9" r="5.8" fill-opacity="0.36"/>
<circle cx="515.0" cy="158.9" r="5.8" fill-opacity="0.36"/>
<circle cx="518.0" cy="158.9" r="5.8" fill-opacity="0.36"/>
<circle cx="521.0" cy="158.9" r="5.8" fill-opacity="0.36"/>
<circle cx="524.0" cy="158.9" r="5.8" fill-opacity="0.36"/>
<circle cx="527.0" cy="158.9" r="5.8" fill-opacity="0.36"/>
<circle cx="530.0" cy="158.9" r="5.8" fill-opacity="0.36"/>
<circle cx="533.0" cy="158.9" r="5.8" fill-opacity="0.36"/>
<circle cx="536.0" cy="158.9" r="5.8" fill-opacity="0.36"/>
<circle cx="539.0" cy="158.9" r="5.8" fill-opacity="0.36"/>
<circle cx="542.0" cy="158.9" r="5.8" fill-opacity="0.36"/>
<circle cx="545.0" cy="158.9" r="5.8" fill-opacity="0.36"/>
<circle cx="548.0" cy="158.9" r="5.8" fill-opacity="0.36"/>
<circle cx="551.0" cy="158.9" r="5.8" fill-opacity="0.36"/>
<circle cx="554.0" cy="158.9" r="5.8" fill-opacity="0.36"/>
<circle cx="557.0" cy="158.9" r="5.8" fill-opacity="0.36"/>
<circle cx="560.0" cy="158.9" r="5.8" fill-opacity="0.36"/>
<circle cx="563.0" cy="158.9" r="5.8" fill-opacity="0.36"/>
<circle cx="566.0" cy="158.9" r="5.8" fill-opacity="0.36"/>
<circle cx="569.0" cy="158.9" r="5.8" fill-opacity="0.36"/>
<circle cx="572.0" cy="158.9" r="5.8" fill-opacity="0.36"/>
<circle cx="575.0" cy="158.9" r="5.8" fill-opacity="0.36"/>
<circle cx="530.0" cy="191.2" r="5.8" fill-opacity="0.36"/>
<circle cx="533.0" cy="191.2" r="5.8" fill-opacity="0.36"/>
<circle cx="536.0" cy="191.2" r="5.8" fill-opacity="0.36"/>
<circle cx="539.0" cy="191.2" r="5.8" fill-opacity="0.36"/>
<circle cx="542.0" cy="191.2" r="5.8" fill-opacity="0.36"/>
<circle cx="545.0" cy="191.2" r="5.8" fill-opacity="0.36"/>
<circle cx="548.0" cy="191.2" r="5.8" fill-opacity="0.36"/>
<circle cx="551.0" cy="191.2" r="5.8" fill-opacity="0.36"/>
<circle cx="554.0" cy="191.2" r="5.8" fill-opacity="0.36"/>
<circle cx="557.0" cy="191.2" r="5.8" fill-opacity="0.36"/>
<circle cx="560.0" cy="191.2" r="5.8" fill-opacity="0.36"/>
<circle cx="563.0" cy="191.2" r="5.8" fill-opacity="0.36"/>
<circle cx="566.0" cy="191.2" r="5.8" fill-opacity="0.36"/>
<circle cx="569.0" cy="191.2" r="5.8" fill-opacity="0.36"/>
<circle cx="572.0" cy="191.2" r="5.8" fill-opacity="0.36"/>
<circle cx="575.0" cy="191.2" r="5.8" fill-opacity="0.36"/>
<circle cx="578.0" cy="191.2" r="5.8" fill-opacity="0.36"/>
<circle cx="581.0" cy="191.2" r="5.8" fill-opacity="0.36"/>
<circle cx="584.0" cy="191.2" r="5.8" fill-opacity="0.36"/>
<circle cx="587.0" cy="191.2" r="5.8" fill-opacity="0.36"/>
<circle cx="590.0" cy="191.2" r="5.8" fill-opacity="0.36"/>
<circle cx="593.0" cy="191.2" r="5.8" fill-opacity="0.36"/>
<circle cx="596.0" cy="191.2" r="5.8" fill-opacity="0.36"/>
<circle cx="599.0" cy="191.2" r="5.8" fill-opacity="0.36"/>
<circle cx="602.0" cy="191.2" r="5.8" fill-opacity="0.36"/>
<circle cx="605.0" cy="191.2" r="5.8" fill-opacity="0.36"/>
<circle cx="485.0" cy="256.4" r="5.8" fill-opacity="0.45"/>
<circle cx="487.5" cy="256.4" r="5.8" fill-opacity="0.45"/>
<circle cx="490.0" cy="256.4" r="5.8" fill-opacity="0.45"/>
<circle cx="492.5" cy="256.4" r="5.8" fill-opacity="0.45"/>
<circle cx="495.0" cy="256.4" r="5.8" fill-opacity="0.45"/>
<circle cx="497.5" cy="256.4" r="5.8" fill-opacity="0.45"/>
<circle cx="500.0" cy="256.4" r="5.8" fill-opacity="0.45"/>
<circle cx="502.5" cy="256.4" r="5.8" fill-opacity="0.45"/>
<circle cx="505.0" cy="256.4" r="5.8" fill-opacity="0.45"/>
<circle cx="507.5" cy="256.4" r="5.8" fill-opacity="0.45"/>
<circle cx="510.0" cy="256.4" r="5.8" fill-opacity="0.45"/>
<circle cx="512.5" cy="256.4" r="5.8" fill-opacity="0.45"/>
<circle cx="515.0" cy="256.4" r="5.8" fill-opacity="0.45"/>
<circle cx="517.5" cy="256.4" r="5.8" fill-opacity="0.45"/>
<circle cx="520.0" cy="256.4" r="5.8" fill-opacity="0.45"/>
<circle cx="522.5" cy="256.4" r="5.8" fill-opacity="0.45"/>
<circle cx="525.0" cy="256.4" r="5.8" fill-opacity="0.45"/>
<circle cx="527.5" cy="256.4" r="5.8" fill-opacity="0.45"/>
<circle cx="530.0" cy="256.4" r="5.8" fill-opacity="0.45"/>
<circle cx="532.5" cy="256.4" r="5.8" fill-opacity="0.45"/>
<circle cx="535.0" cy="256.4" r="5.8" fill-opacity="0.45"/>
<circle cx="537.5" cy="256.4" r="5.8" fill-opacity="0.45"/>
<circle cx="540.0" cy="256.4" r="5.8" fill-opacity="0.45"/>
<circle cx="542.5" cy="256.4" r="5.8" fill-opacity="0.45"/>
<circle cx="545.0" cy="256.4" r="5.8" fill-opacity="0.45"/>
<circle cx="547.5" cy="256.4" r="5.8" fill-opacity="0.45"/>
<circle cx="550.0" cy="256.4" r="5.8" fill-opacity="0.45"/>
<circle cx="552.5" cy="256.4" r="5.8" fill-opacity="0.45"/>
<circle cx="555.0" cy="256.4" r="5.8" fill-opacity="0.45"/>
<circle cx="557.5" cy="256.4" r="5.8" fill-opacity="0.45"/>
<circle cx="560.0" cy="256.4" r="5.8" fill-opacity="0.45"/>
<circle cx="562.5" cy="256.4" r="5.8" fill-opacity="0.45"/>
<circle cx="565.0" cy="256.4" r="5.8" fill-opacity="0.45"/>
<circle cx="567.5" cy="256.4" r="5.8" fill-opacity="0.45"/>
<circle cx="570.0" cy="256.4" r="5.8" fill-opacity="0.45"/>
<circle cx="572.5" cy="256.4" r="5.8" fill-opacity="0.45"/>
<circle cx="575.0" cy="256.4" r="5.8" fill-opacity="0.45"/>
<circle cx="577.5" cy="256.4" r="5.8" fill-opacity="0.45"/>
<circle cx="580.0" cy="256.4" r="5.8" fill-opacity="0.45"/>
<circle cx="582.5" cy="256.4" r="5.8" fill-opacity="0.45"/>
<circle cx="585.0" cy="256.4" r="5.8" fill-opacity="0.45"/>
<circle cx="586.0" cy="256.4" r="5.8" fill-opacity="0.3"/>
<circle cx="588.5" cy="256.4" r="5.8" fill-opacity="0.3"/>
<circle cx="591.0" cy="256.4" r="5.8" fill-opacity="0.3"/>
<circle cx="485.0" cy="269.2" r="5.8" fill-opacity="0.45"/>
<circle cx="487.5" cy="269.2" r="5.8" fill-opacity="0.45"/>
<circle cx="490.0" cy="269.2" r="5.8" fill-opacity="0.45"/>
<circle cx="492.5" cy="269.2" r="5.8" fill-opacity="0.45"/>
<circle cx="495.0" cy="269.2" r="5.8" fill-opacity="0.45"/>
<circle cx="497.5" cy="269.2" r="5.8" fill-opacity="0.45"/>
<circle cx="500.0" cy="269.2" r="5.8" fill-opacity="0.45"/>
<circle cx="502.5" cy="269.2" r="5.8" fill-opacity="0.45"/>
<circle cx="505.0" cy="269.2" r="5.8" fill-opacity="0.45"/>
<circle cx="507.5" cy="269.2" r="5.8" fill-opacity="0.45"/>
<circle cx="510.0" cy="269.2" r="5.8" fill-opacity="0.45"/>
<circle cx="512.5" cy="269.2" r="5.8" fill-opacity="0.45"/>
<circle cx="515.0" cy="269.2" r="5.8" fill-opacity="0.45"/>
<circle cx="517.5" cy="269.2" r="5.8" fill-opacity="0.45"/>
<circle cx="520.0" cy="269.2" r="5.8" fill-opacity="0.45"/>
<circle cx="522.5" cy="269.2" r="5.8" fill-opacity="0.45"/>
<circle cx="525.0" cy="269.2" r="5.8" fill-opacity="0.45"/>
<circle cx="527.5" cy="269.2" r="5.8" fill-opacity="0.45"/>
<circle cx="530.0" cy="269.2" r="5.8" fill-opacity="0.45"/>
<circle cx="532.5" cy="269.2" r="5.8" fill-opacity="0.45"/>
<circle cx="535.0" cy="269.2" r="5.8" fill-opacity="0.45"/>
<circle cx="537.5" cy="269.2" r="5.8" fill-opacity="0.45"/>
<circle cx="540.0" cy="269.2" r="5.8" fill-opacity="0.45"/>
<circle cx="542.5" cy="269.2" r="5.8" fill-opacity="0.45"/>
<circle cx="545.0" cy="269.2" r="5.8" fill-opacity="0.45"/>
<circle cx="547.5" cy="269.2" r="5.8" fill-opacity="0.45"/>
<circle cx="550.0" cy="269.2" r="5.8" fill-opacity="0.45"/>
<circle cx="552.5" cy="269.2" r="5.8" fill-opacity="0.45"/>
<circle cx="555.0" cy="269.2" r="5.8" fill-opacity="0.45"/>
<circle cx="557.5" cy="269.2" r="5.8" fill-opacity="0.45"/>
<circle cx="560.0" cy="269.2" r="5.8" fill-opacity="0.45"/>
<circle cx="562.5" cy="269.2" r="5.8" fill-opacity="0.45"/>
<circle cx="565.0" cy="269.2" r="5.8" fill-opacity="0.45"/>
<circle cx="567.5" cy="269.2" r="5.8" fill-opacity="0.45"/>
<circle cx="570.0" cy="269.2" r="5.8" fill-opacity="0.45"/>
<circle cx="572.5" cy="269.2" r="5.8" fill-opacity="0.45"/>
<circle cx="575.0" cy="269.2" r="5.8" fill-opacity="0.45"/>
<circle cx="577.5" cy="269.2" r="5.8" fill-opacity="0.45"/>
<circle cx="580.0" cy="269.2" r="5.8" fill-opacity="0.45"/>
<circle cx="582.5" cy="269.2" r="5.8" fill-opacity="0.45"/>
<circle cx="585.0" cy="269.2" r="5.8" fill-opacity="0.45"/>
<circle cx="587.5" cy="269.2" r="5.8" fill-opacity="0.45"/>
<circle cx="588.0" cy="269.2" r="5.8" fill-opacity="0.3"/>
<circle cx="590.5" cy="269.2" r="5.8" fill-opacity="0.3"/>
<circle cx="593.0" cy="269.2" r="5.8" fill-opacity="0.3"/>
<circle cx="495.0" cy="282.1" r="5.8" fill-opacity="0.45"/>
<circle cx="497.5" cy="282.1" r="5.8" fill-opacity="0.45"/>
<circle cx="500.0" cy="282.1" r="5.8" fill-opacity="0.45"/>
<circle cx="502.5" cy="282.1" r="5.8" fill-opacity="0.45"/>
<circle cx="505.0" cy="282.1" r="5.8" fill-opacity="0.45"/>
<circle cx="507.5" cy="282.1" r="5.8" fill-opacity="0.45"/>
<circle cx="510.0" cy="282.1" r="5.8" fill-opacity="0.45"/>
<circle cx="512.5" cy="282.1" r="5.8" fill-opacity="0.45"/>
<circle cx="515.0" cy="282.1" r="5.8" fill-opacity="0.45"/>
<circle cx="517.5" cy="282.1" r="5.8" fill-opacity="0.45"/>
<circle cx="520.0" cy="282.1" r="5.8" fill-opacity="0.45"/>
<circle cx="522.5" cy="282.1" r="5.8" fill-opacity="0.45"/>
<circle cx="525.0" cy="282.1" r="5.8" fill-opacity="0.45"/>
<circle cx="527.5" cy="282.1" r="5.8" fill-opacity="0.45"/>
<circle cx="530.0" cy="282.1" r="5.8" fill-opacity="0.45"/>
<circle cx="532.5" cy="282.1" r="5.8" fill-opacity="0.45"/>
<circle cx="535.0" cy="282.1" r="5.8" fill-opacity="0.45"/>
<circle cx="537.5" cy="282.1" r="5.8" fill-opacity="0.45"/>
<circle cx="540.0" cy="282.1" r="5.8" fill-opacity="0.45"/>
<circle cx="542.5" cy="282.1" r="5.8" fill-opacity="0.45"/>
<circle cx="545.0" cy="282.1" r="5.8" fill-opacity="0.45"/>
<circle cx="547.5" cy="282.1" r="5.8" fill-opacity="0.45"/>
<circle cx="550.0" cy="282.1" r="5.8" fill-opacity="0.45"/>
<circle cx="552.5" cy="282.1" r="5.8" fill-opacity="0.45"/>
<circle cx="555.0" cy="282.1" r="5.8" fill-opacity="0.45"/>
<circle cx="557.5" cy="282.1" r="5.8" fill-opacity="0.45"/>
<circle cx="560.0" cy="282.1" r="5.8" fill-opacity="0.45"/>
<circle cx="562.5" cy="282.1" r="5.8" fill-opacity="0.45"/>
<circle cx="565.0" cy="282.1" r="5.8" fill-opacity="0.45"/>
<circle cx="567.5" cy="282.1" r="5.8" fill-opacity="0.45"/>
<circle cx="570.0" cy="282.1" r="5.8" fill-opacity="0.45"/>
<circle cx="572.5" cy="282.1" r="5.8" fill-opacity="0.45"/>
<circle cx="575.0" cy="282.1" r="5.8" fill-opacity="0.45"/>
<circle cx="577.5" cy="282.1" r="5.8" fill-opacity="0.45"/>
<circle cx="580.0" cy="282.1" r="5.8" fill-opacity="0.45"/>
<circle cx="582.5" cy="282.1" r="5.8" fill-opacity="0.45"/>
<circle cx="585.0" cy="282.1" r="5.8" fill-opacity="0.45"/>
<circle cx="587.0" cy="282.1" r="5.8" fill-opacity="0.3"/>
<circle cx="589.5" cy="282.1" r="5.8" fill-opacity="0.3"/>
<circle cx="592.0" cy="282.1" r="5.8" fill-opacity="0.3"/>
<circle cx="485.0" cy="295.0" r="5.8" fill-opacity="0.45"/>
<circle cx="487.5" cy="295.0" r="5.8" fill-opacity="0.45"/>
<circle cx="490.0" cy="295.0" r="5.8" fill-opacity="0.45"/>
<circle cx="492.5" cy="295.0" r="5.8" fill-opacity="0.45"/>
<circle cx="495.0" cy="295.0" r="5.8" fill-opacity="0.45"/>
<circle cx="497.5" cy="295.0" r="5.8" fill-opacity="0.45"/>
<circle cx="500.0" cy="295.0" r="5.8" fill-opacity="0.45"/>
<circle cx="502.5" cy="295.0" r="5.8" fill-opacity="0.45"/>
<circle cx="505.0" cy="295.0" r="5.8" fill-opacity="0.45"/>
<circle cx="507.5" cy="295.0" r="5.8" fill-opacity="0.45"/>
<circle cx="510.0" cy="295.0" r="5.8" fill-opacity="0.45"/>
<circle cx="512.5" cy="295.0" r="5.8" fill-opacity="0.45"/>
<circle cx="515.0" cy="295.0" r="5.8" fill-opacity="0.45"/>
<circle cx="517.5" cy="295.0" r="5.8" fill-opacity="0.45"/>
<circle cx="520.0" cy="295.0" r="5.8" fill-opacity="0.45"/>
<circle cx="522.5" cy="295.0" r="5.8" fill-opacity="0.45"/>
<circle cx="525.0" cy="295.0" r="5.8" fill-opacity="0.45"/>
<circle cx="527.5" cy="295.0" r="5.8" fill-opacity="0.45"/>
<circle cx="530.0" cy="295.0" r="5.8" fill-opacity="0.45"/>
<circle cx="532.5" cy="295.0" r="5.8" fill-opacity="0.45"/>
<circle cx="535.0" cy="295.0" r="5.8" fill-opacity="0.45"/>
<circle cx="537.5" cy="295.0" r="5.8" fill-opacity="0.45"/>
<circle cx="540.0" cy="295.0" r="5.8" fill-opacity="0.45"/>
<circle cx="542.5" cy="295.0" r="5.8" fill-opacity="0.45"/>
<circle cx="545.0" cy="295.0" r="5.8" fill-opacity="0.45"/>
<circle cx="547.5" cy="295.0" r="5.8" fill-opacity="0.45"/>
<circle cx="550.0" cy="295.0" r="5.8" fill-opacity="0.45"/>
<circle cx="552.5" cy="295.0" r="5.8" fill-opacity="0.45"/>
<circle cx="555.0" cy="295.0" r="5.8" fill-opacity="0.45"/>
<circle cx="557.5" cy="295.0" r="5.8" fill-opacity="0.45"/>
<circle cx="560.0" cy="295.0" r="5.8" fill-opacity="0.45"/>
<circle cx="562.5" cy="295.0" r="5.8" fill-opacity="0.45"/>
<circle cx="565.0" cy="295.0" r="5.8" fill-opacity="0.45"/>
<circle cx="567.5" cy="295.0" r="5.8" fill-opacity="0.45"/>
<circle cx="570.0" cy="295.0" r="5.8" fill-opacity="0.45"/>
<circle cx="572.5" cy="295.0" r="5.8" fill-opacity="0.45"/>
<circle cx="575.0" cy="295.0" r="5.8" fill-opacity="0.45"/>
<circle cx="577.5" cy="295.0" r="5.8" fill-opacity="0.45"/>
<circle cx="580.0" cy="295.0" r="5.8" fill-opacity="0.45"/>
<circle cx="490.0" cy="308.0" r="5.8" fill-opacity="0.45"/>
<circle cx="492.5" cy="308.0" r="5.8" fill-opacity="0.45"/>
<circle cx="495.0" cy="308.0" r="5.8" fill-opacity="0.45"/>
<circle cx="497.5" cy="308.0" r="5.8" fill-opacity="0.45"/>
<circle cx="500.0" cy="308.0" r="5.8" fill-opacity="0.45"/>
<circle cx="502.5" cy="308.0" r="5.8" fill-opacity="0.45"/>
<circle cx="505.0" cy="308.0" r="5.8" fill-opacity="0.45"/>
<circle cx="507.5" cy="308.0" r="5.8" fill-opacity="0.45"/>
<circle cx="510.0" cy="308.0" r="5.8" fill-opacity="0.45"/>
<circle cx="512.5" cy="308.0" r="5.8" fill-opacity="0.45"/>
<circle cx="515.0" cy="308.0" r="5.8" fill-opacity="0.45"/>
<circle cx="517.5" cy="308.0" r="5.8" fill-opacity="0.45"/>
<circle cx="520.0" cy="308.0" r="5.8" fill-opacity="0.45"/>
<circle cx="522.5" cy="308.0" r="5.8" fill-opacity="0.45"/>
<circle cx="525.0" cy="308.0" r="5.8" fill-opacity="0.45"/>
<circle cx="527.5" cy="308.0" r="5.8" fill-opacity="0.45"/>
<circle cx="530.0" cy="308.0" r="5.8" fill-opacity="0.45"/>
<circle cx="532.5" cy="308.0" r="5.8" fill-opacity="0.45"/>
<circle cx="535.0" cy="308.0" r="5.8" fill-opacity="0.45"/>
<circle cx="537.5" cy="308.0" r="5.8" fill-opacity="0.45"/>
<circle cx="540.0" cy="308.0" r="5.8" fill-opacity="0.45"/>
<circle cx="542.5" cy="308.0" r="5.8" fill-opacity="0.45"/>
<circle cx="545.0" cy="308.0" r="5.8" fill-opacity="0.45"/>
<circle cx="547.5" cy="308.0" r="5.8" fill-opacity="0.45"/>
<circle cx="550.0" cy="308.0" r="5.8" fill-opacity="0.45"/>
<circle cx="552.5" cy="308.0" r="5.8" fill-opacity="0.45"/>
<circle cx="555.0" cy="308.0" r="5.8" fill-opacity="0.45"/>
<circle cx="557.5" cy="308.0" r="5.8" fill-opacity="0.45"/>
<circle cx="560.0" cy="308.0" r="5.8" fill-opacity="0.45"/>
<circle cx="562.5" cy="308.0" r="5.8" fill-opacity="0.45"/>
<circle cx="565.0" cy="308.0" r="5.8" fill-opacity="0.45"/>
<circle cx="567.5" cy="308.0" r="5.8" fill-opacity="0.45"/>
<circle cx="570.0" cy="308.0" r="5.8" fill-opacity="0.45"/>
<circle cx="572.5" cy="308.0" r="5.8" fill-opacity="0.45"/>
<circle cx="575.0" cy="308.0" r="5.8" fill-opacity="0.45"/>
<circle cx="577.5" cy="308.0" r="5.8" fill-opacity="0.45"/>
<circle cx="580.0" cy="308.0" r="5.8" fill-opacity="0.45"/>
<circle cx="582.5" cy="308.0" r="5.8" fill-opacity="0.45"/>
<circle cx="585.0" cy="308.0" r="5.8" fill-opacity="0.45"/>
<circle cx="586.0" cy="308.0" r="5.8" fill-opacity="0.3"/>
<circle cx="588.5" cy="308.0" r="5.8" fill-opacity="0.3"/>
<circle cx="591.0" cy="308.0" r="5.8" fill-opacity="0.3"/>
<circle cx="490.0" cy="321.1" r="5.8" fill-opacity="0.45"/>
<circle cx="492.5" cy="321.1" r="5.8" fill-opacity="0.45"/>
<circle cx="495.0" cy="321.1" r="5.8" fill-opacity="0.45"/>
<circle cx="497.5" cy="321.1" r="5.8" fill-opacity="0.45"/>
<circle cx="500.0" cy="321.1" r="5.8" fill-opacity="0.45"/>
<circle cx="502.5" cy="321.1" r="5.8" fill-opacity="0.45"/>
<circle cx="505.0" cy="321.1" r="5.8" fill-opacity="0.45"/>
<circle cx="507.5" cy="321.1" r="5.8" fill-opacity="0.45"/>
<circle cx="510.0" cy="321.1" r="5.8" fill-opacity="0.45"/>
<circle cx="512.5" cy="321.1" r="5.8" fill-opacity="0.45"/>
<circle cx="515.0" cy="321.1" r="5.8" fill-opacity="0.45"/>
<circle cx="517.5" cy="321.1" r="5.8" fill-opacity="0.45"/>
<circle cx="520.0" cy="321.1" r="5.8" fill-opacity="0.45"/>
<circle cx="522.5" cy="321.1" r="5.8" fill-opacity="0.45"/>
<circle cx="525.0" cy="321.1" r="5.8" fill-opacity="0.45"/>
<circle cx="527.5" cy="321.1" r="5.8" fill-opacity="0.45"/>
<circle cx="530.0" cy="321.1" r="5.8" fill-opacity="0.45"/>
<circle cx="532.5" cy="321.1" r="5.8" fill-opacity="0.45"/>
<circle cx="535.0" cy="321.1" r="5.8" fill-opacity="0.45"/>
<circle cx="537.5" cy="321.1" r="5.8" fill-opacity="0.45"/>
<circle cx="540.0" cy="321.1" r="5.8" fill-opacity="0.45"/>
<circle cx="542.5" cy="321.1" r="5.8" fill-opacity="0.45"/>
<circle cx="545.0" cy="321.1" r="5.8" fill-opacity="0.45"/>
<circle cx="547.5" cy="321.1" r="5.8" fill-opacity="0.45"/>
<circle cx="550.0" cy="321.1" r="5.8" fill-opacity="0.45"/>
<circle cx="552.5" cy="321.1" r="5.8" fill-opacity="0.45"/>
<circle cx="555.0" cy="321.1" r="5.8" fill-opacity="0.45"/>
<circle cx="557.5" cy="321.1" r="5.8" fill-opacity="0.45"/>
<circle cx="560.0" cy="321.1" r="5.8" fill-opacity="0.45"/>
<circle cx="562.5" cy="321.1" r="5.8" fill-opacity="0.45"/>
<circle cx="565.0" cy="321.1" r="5.8" fill-opacity="0.45"/>
<circle cx="567.5" cy="321.1" r="5.8" fill-opacity="0.45"/>
<circle cx="570.0" cy="321.1" r="5.8" fill-opacity="0.45"/>
<circle cx="572.5" cy="321.1" r="5.8" fill-opacity="0.45"/>
<circle cx="575.0" cy="321.1" r="5.8" fill-opacity="0.45"/>
<circle cx="577.5" cy="321.1" r="5.8" fill-opacity="0.45"/>
<circle cx="580.0" cy="321.1" r="5.8" fill-opacity="0.45"/>
<circle cx="582.5" cy="321.1" r="5.8" fill-opacity="0.45"/>
<circle cx="585.0" cy="321.1" r="5.8" fill-opacity="0.45"/>
<circle cx="587.0" cy="321.1" r="5.8" fill-opacity="0.3"/>
<circle cx="589.5" cy="321.1" r="5.8" fill-opacity="0.3"/>
<circle cx="592.0" cy="321.1" r="5.8" fill-opacity="0.3"/>
<circle cx="522.0" cy="357.9" r="5.8" fill-opacity="0.42"/>
<circle cx="524.5" cy="357.9" r="5.8" fill-opacity="0.42"/>
<circle cx="527.0" cy="357.9" r="5.8" fill-opacity="0.42"/>
<circle cx="529.5" cy="357.9" r="5.8" fill-opacity="0.42"/>
<circle cx="532.0" cy="357.9" r="5.8" fill-opacity="0.42"/>
<circle cx="534.5" cy="357.9" r="5.8" fill-opacity="0.42"/>
<circle cx="537.0" cy="357.9" r="5.8" fill-opacity="0.42"/>
<circle cx="539.5" cy="357.9" r="5.8" fill-opacity="0.42"/>
<circle cx="542.0" cy="357.9" r="5.8" fill-opacity="0.42"/>
<circle cx="544.5" cy="357.9" r="5.8" fill-opacity="0.42"/>
<circle cx="547.0" cy="357.9" r="5.8" fill-opacity="0.42"/>
<circle cx="549.5" cy="357.9" r="5.8" fill-opacity="0.42"/>
<circle cx="552.0" cy="357.9" r="5.8" fill-opacity="0.42"/>
<circle cx="554.5" cy="357.9" r="5.8" fill-opacity="0.42"/>
<circle cx="557.0" cy="357.9" r="5.8" fill-opacity="0.42"/>
<circle cx="559.5" cy="357.9" r="5.8" fill-opacity="0.42"/>
<circle cx="562.0" cy="357.9" r="5.8" fill-opacity="0.42"/>
<circle cx="564.5" cy="357.9" r="5.8" fill-opacity="0.42"/>
<circle cx="567.0" cy="357.9" r="5.8" fill-opacity="0.42"/>
<circle cx="569.5" cy="357.9" r="5.8" fill-opacity="0.42"/>
<circle cx="572.0" cy="357.9" r="5.8" fill-opacity="0.42"/>
<circle cx="574.5" cy="357.9" r="5.8" fill-opacity="0.42"/>
<circle cx="577.0" cy="357.9" r="5.8" fill-opacity="0.42"/>
<circle cx="579.5" cy="357.9" r="5.8" fill-opacity="0.42"/>
<circle cx="582.0" cy="357.9" r="5.8" fill-opacity="0.42"/>
<circle cx="584.5" cy="357.9" r="5.8" fill-opacity="0.42"/>
<circle cx="587.0" cy="357.9" r="5.8" fill-opacity="0.42"/>
<circle cx="589.5" cy="357.9" r="5.8" fill-opacity="0.42"/>
<circle cx="592.0" cy="357.9" r="5.8" fill-opacity="0.42"/>
<circle cx="594.5" cy="357.9" r="5.8" fill-opacity="0.42"/>
<circle cx="597.0" cy="357.9" r="5.8" fill-opacity="0.42"/>
<circle cx="599.5" cy="357.9" r="5.8" fill-opacity="0.42"/>
<circle cx="601.0" cy="357.9" r="5.8" fill-opacity="0.25"/>
<circle cx="604.0" cy="357.9" r="5.8" fill-opacity="0.25"/>
<circle cx="607.0" cy="357.9" r="5.8" fill-opacity="0.25"/>
<circle cx="522.0" cy="377.5" r="5.8" fill-opacity="0.42"/>
<circle cx="524.5" cy="377.5" r="5.8" fill-opacity="0.42"/>
<circle cx="527.0" cy="377.5" r="5.8" fill-opacity="0.42"/>
<circle cx="529.5" cy="377.5" r="5.8" fill-opacity="0.42"/>
<circle cx="532.0" cy="377.5" r="5.8" fill-opacity="0.42"/>
<circle cx="534.5" cy="377.5" r="5.8" fill-opacity="0.42"/>
<circle cx="537.0" cy="377.5" r="5.8" fill-opacity="0.42"/>
<circle cx="539.5" cy="377.5" r="5.8" fill-opacity="0.42"/>
<circle cx="542.0" cy="377.5" r="5.8" fill-opacity="0.42"/>
<circle cx="544.5" cy="377.5" r="5.8" fill-opacity="0.42"/>
<circle cx="547.0" cy="377.5" r="5.8" fill-opacity="0.42"/>
<circle cx="549.5" cy="377.5" r="5.8" fill-opacity="0.42"/>
<circle cx="552.0" cy="377.5" r="5.8" fill-opacity="0.42"/>
<circle cx="554.5" cy="377.5" r="5.8" fill-opacity="0.42"/>
<circle cx="557.0" cy="377.5" r="5.8" fill-opacity="0.42"/>
<circle cx="559.5" cy="377.5" r="5.8" fill-opacity="0.42"/>
<circle cx="562.0" cy="377.5" r="5.8" fill-opacity="0.42"/>
<circle cx="564.5" cy="377.5" r="5.8" fill-opacity="0.42"/>
<circle cx="567.0" cy="377.5" r="5.8" fill-opacity="0.42"/>
<circle cx="569.5" cy="377.5" r="5.8" fill-opacity="0.42"/>
<circle cx="572.0" cy="377.5" r="5.8" fill-opacity="0.42"/>
<circle cx="574.5" cy="377.5" r="5.8" fill-opacity="0.42"/>
<circle cx="577.0" cy="377.5" r="5.8" fill-opacity="0.42"/>
<circle cx="579.5" cy="377.5" r="5.8" fill-opacity="0.42"/>
<circle cx="582.0" cy="377.5" r="5.8" fill-opacity="0.42"/>
<circle cx="584.5" cy="377.5" r="5.8" fill-opacity="0.42"/>
<circle cx="587.0" cy="377.5" r="5.8" fill-opacity="0.42"/>
<circle cx="589.5" cy="377.5" r="5.8" fill-opacity="0.42"/>
<circle cx="592.0" cy="377.5" r="5.8" fill-opacity="0.42"/>
<circle cx="594.5" cy="377.5" r="5.8" fill-opacity="0.42"/>
<circle cx="597.0" cy="377.5" r="5.8" fill-opacity="0.42"/>
<circle cx="599.5" cy="377.5" r="5.8" fill-opacity="0.42"/>
<circle cx="602.0" cy="377.5" r="5.8" fill-opacity="0.42"/>
<circle cx="604.5" cy="377.5" r="5.8" fill-opacity="0.42"/>
<circle cx="515.0" cy="397.3" r="5.8" fill-opacity="0.42"/>
<circle cx="517.5" cy="397.3" r="5.8" fill-opacity="0.42"/>
<circle cx="520.0" cy="397.3" r="5.8" fill-opacity="0.42"/>
<circle cx="522.5" cy="397.3" r="5.8" fill-opacity="0.42"/>
<circle cx="525.0" cy="397.3" r="5.8" fill-opacity="0.42"/>
<circle cx="527.5" cy="397.3" r="5.8" fill-opacity="0.42"/>
<circle cx="530.0" cy="397.3" r="5.8" fill-opacity="0.42"/>
<circle cx="532.5" cy="397.3" r="5.8" fill-opacity="0.42"/>
<circle cx="535.0" cy="397.3" r="5.8" fill-opacity="0.42"/>
<circle cx="537.5" cy="397.3" r="5.8" fill-opacity="0.42"/>
<circle cx="540.0" cy="397.3" r="5.8" fill-opacity="0.42"/>
<circle cx="542.5" cy="397.3" r="5.8" fill-opacity="0.42"/>
<circle cx="545.0" cy="397.3" r="5.8" fill-opacity="0.42"/>
<circle cx="547.5" cy="397.3" r="5.8" fill-opacity="0.42"/>
<circle cx="550.0" cy="397.3" r="5.8" fill-opacity="0.42"/>
<circle cx="552.5" cy="397.3" r="5.8" fill-opacity="0.42"/>
<circle cx="555.0" cy="397.3" r="5.8" fill-opacity="0.42"/>
<circle cx="557.5" cy="397.3" r="5.8" fill-opacity="0.42"/>
<circle cx="560.0" cy="397.3" r="5.8" fill-opacity="0.42"/>
<circle cx="562.5" cy="397.3" r="5.8" fill-opacity="0.42"/>
<circle cx="565.0" cy="397.3" r="5.8" fill-opacity="0.42"/>
<circle cx="567.5" cy="397.3" r="5.8" fill-opacity="0.42"/>
<circle cx="570.0" cy="397.3" r="5.8" fill-opacity="0.42"/>
<circle cx="572.5" cy="397.3" r="5.8" fill-opacity="0.42"/>
<circle cx="575.0" cy="397.3" r="5.8" fill-opacity="0.42"/>
<circle cx="577.5" cy="397.3" r="5.8" fill-opacity="0.42"/>
<circle cx="580.0" cy="397.3" r="5.8" fill-opacity="0.42"/>
<circle cx="582.5" cy="397.3" r="5.8" fill-opacity="0.42"/>
<circle cx="585.0" cy="397.3" r="5.8" fill-opacity="0.42"/>
<circle cx="587.5" cy="397.3" r="5.8" fill-opacity="0.42"/>
<circle cx="590.0" cy="397.3" r="5.8" fill-opacity="0.42"/>
<circle cx="592.5" cy="397.3" r="5.8" fill-opacity="0.42"/>
<circle cx="595.0" cy="397.3" r="5.8" fill-opacity="0.42"/>
<circle cx="597.5" cy="397.3" r="5.8" fill-opacity="0.42"/>
<circle cx="600.0" cy="397.3" r="5.8" fill-opacity="0.42"/>
<circle cx="602.5" cy="397.3" r="5.8" fill-opacity="0.42"/>
<circle cx="605.0" cy="397.3" r="5.8" fill-opacity="0.42"/>
<circle cx="607.0" cy="397.3" r="5.8" fill-opacity="0.25"/>
<circle cx="610.0" cy="397.3" r="5.8" fill-opacity="0.25"/>
<circle cx="518.0" cy="417.0" r="5.8" fill-opacity="0.42"/>
<circle cx="520.5" cy="417.0" r="5.8" fill-opacity="0.42"/>
<circle cx="523.0" cy="417.0" r="5.8" fill-opacity="0.42"/>
<circle cx="525.5" cy="417.0" r="5.8" fill-opacity="0.42"/>
<circle cx="528.0" cy="417.0" r="5.8" fill-opacity="0.42"/>
<circle cx="530.5" cy="417.0" r="5.8" fill-opacity="0.42"/>
<circle cx="533.0" cy="417.0" r="5.8" fill-opacity="0.42"/>
<circle cx="535.5" cy="417.0" r="5.8" fill-opacity="0.42"/>
<circle cx="538.0" cy="417.0" r="5.8" fill-opacity="0.42"/>
<circle cx="540.5" cy="417.0" r="5.8" fill-opacity="0.42"/>
<circle cx="543.0" cy="417.0" r="5.8" fill-opacity="0.42"/>
<circle cx="545.5" cy="417.0" r="5.8" fill-opacity="0.42"/>
<circle cx="548.0" cy="417.0" r="5.8" fill-opacity="0.42"/>
<circle cx="550.5" cy="417.0" r="5.8" fill-opacity="0.42"/>
<circle cx="553.0" cy="417.0" r="5.8" fill-opacity="0.42"/>
<circle cx="555.5" cy="417.0" r="5.8" fill-opacity="0.42"/>
<circle cx="558.0" cy="417.0" r="5.8" fill-opacity="0.42"/>
<circle cx="560.5" cy="417.0" r="5.8" fill-opacity="0.42"/>
<circle cx="563.0" cy="417.0" r="5.8" fill-opacity="0.42"/>
<circle cx="565.5" cy="417.0" r="5.8" fill-opacity="0.42"/>
<circle cx="568.0" cy="417.0" r="5.8" fill-opacity="0.42"/>
<circle cx="570.5" cy="417.0" r="5.8" fill-opacity="0.42"/>
<circle cx="573.0" cy="417.0" r="5.8" fill-opacity="0.42"/>
<circle cx="575.5" cy="417.0" r="5.8" fill-opacity="0.42"/>
<circle cx="578.0" cy="417.0" r="5.8" fill-opacity="0.42"/>
<circle cx="580.5" cy="417.0" r="5.8" fill-opacity="0.42"/>
<circle cx="583.0" cy="417.0" r="5.8" fill-opacity="0.42"/>
<circle cx="585.5" cy="417.0" r="5.8" fill-opacity="0.42"/>
<circle cx="588.0" cy="417.0" r="5.8" fill-opacity="0.42"/>
<circle cx="590.5" cy="417.0" r="5.8" fill-opacity="0.42"/>
<circle cx="593.0" cy="417.0" r="5.8" fill-opacity="0.42"/>
<circle cx="595.5" cy="417.0" r="5.8" fill-opacity="0.42"/>
<circle cx="598.0" cy="417.0" r="5.8" fill-opacity="0.42"/>
<circle cx="600.5" cy="417.0" r="5.8" fill-opacity="0.42"/>
<circle cx="603.0" cy="417.0" r="5.8" fill-opacity="0.42"/>
<circle cx="605.5" cy="417.0" r="5.8" fill-opacity="0.42"/>
<circle cx="606.0" cy="417.0" r="5.8" fill-opacity="0.25"/>
<circle cx="609.0" cy="417.0" r="5.8" fill-opacity="0.25"/>
<circle cx="578.0" cy="485.9" r="5.8" fill-opacity="0.45"/>
<circle cx="580.5" cy="485.9" r="5.8" fill-opacity="0.45"/>
<circle cx="583.0" cy="485.9" r="5.8" fill-opacity="0.45"/>
<circle cx="585.5" cy="485.9" r="5.8" fill-opacity="0.45"/>
<circle cx="588.0" cy="485.9" r="5.8" fill-opacity="0.45"/>
<circle cx="590.5" cy="485.9" r="5.8" fill-opacity="0.45"/>
<circle cx="593.0" cy="485.9" r="5.8" fill-opacity="0.45"/>
<circle cx="595.5" cy="485.9" r="5.8" fill-opacity="0.45"/>
<circle cx="598.0" cy="485.9" r="5.8" fill-opacity="0.45"/>
<circle cx="600.5" cy="485.9" r="5.8" fill-opacity="0.45"/>
<circle cx="603.0" cy="485.9" r="5.8" fill-opacity="0.45"/>
<circle cx="605.5" cy="485.9" r="5.8" fill-opacity="0.45"/>
<circle cx="608.0" cy="485.9" r="5.8" fill-opacity="0.45"/>
<circle cx="610.5" cy="485.9" r="5.8" fill-opacity="0.45"/>
<circle cx="613.0" cy="485.9" r="5.8" fill-opacity="0.45"/>
<circle cx="615.5" cy="485.9" r="5.8" fill-opacity="0.45"/>
<circle cx="618.0" cy="485.9" r="5.8" fill-opacity="0.45"/>
<circle cx="620.5" cy="485.9" r="5.8" fill-opacity="0.45"/>
<circle cx="623.0" cy="485.9" r="5.8" fill-opacity="0.45"/>
<circle cx="625.5" cy="485.9" r="5.8" fill-opacity="0.45"/>
<circle cx="628.0" cy="485.9" r="5.8" fill-opacity="0.45"/>
<circle cx="584.0" cy="504.3" r="5.8" fill-opacity="0.45"/>
<circle cx="586.5" cy="504.3" r="5.8" fill-opacity="0.45"/>
<circle cx="589.0" cy="504.3" r="5.8" fill-opacity="0.45"/>
<circle cx="591.5" cy="504.3" r="5.8" fill-opacity="0.45"/>
<circle cx="594.0" cy="504.3" r="5.8" fill-opacity="0.45"/>
<circle cx="596.5" cy="504.3" r="5.8" fill-opacity="0.45"/>
<circle cx="599.0" cy="504.3" r="5.8" fill-opacity="0.45"/>
<circle cx="601.5" cy="504.3" r="5.8" fill-opacity="0.45"/>
<circle cx="604.0" cy="504.3" r="5.8" fill-opacity="0.45"/>
<circle cx="606.5" cy="504.3" r="5.8" fill-opacity="0.45"/>
<circle cx="609.0" cy="504.3" r="5.8" fill-opacity="0.45"/>
<circle cx="611.5" cy="504.3" r="5.8" fill-opacity="0.45"/>
<circle cx="614.0" cy="504.3" r="5.8" fill-opacity="0.45"/>
<circle cx="616.5" cy="504.3" r="5.8" fill-opacity="0.45"/>
<circle cx="619.0" cy="504.3" r="5.8" fill-opacity="0.45"/>
<circle cx="621.5" cy="504.3" r="5.8" fill-opacity="0.45"/>
<circle cx="624.0" cy="504.3" r="5.8" fill-opacity="0.45"/>
<circle cx="626.5" cy="504.3" r="5.8" fill-opacity="0.45"/>
<circle cx="629.0" cy="504.3" r="5.8" fill-opacity="0.45"/>
<circle cx="631.5" cy="504.3" r="5.8" fill-opacity="0.45"/>
<circle cx="633.0" cy="504.3" r="5.8" fill-opacity="0.25"/>
<circle cx="635.5" cy="504.3" r="5.8" fill-opacity="0.25"/>
<circle cx="638.0" cy="504.3" r="5.8" fill-opacity="0.25"/>
<circle cx="588.0" cy="523.0" r="5.8" fill-opacity="0.45"/>
<circle cx="590.5" cy="523.0" r="5.8" fill-opacity="0.45"/>
<circle cx="593.0" cy="523.0" r="5.8" fill-opacity="0.45"/>
<circle cx="595.5" cy="523.0" r="5.8" fill-opacity="0.45"/>
<circle cx="598.0" cy="523.0" r="5.8" fill-opacity="0.45"/>
<circle cx="600.5" cy="523.0" r="5.8" fill-opacity="0.45"/>
<circle cx="603.0" cy="523.0" r="5.8" fill-opacity="0.45"/>
<circle cx="605.5" cy="523.0" r="5.8" fill-opacity="0.45"/>
<circle cx="608.0" cy="523.0" r="5.8" fill-opacity="0.45"/>
<circle cx="610.5" cy="523.0" r="5.8" fill-opacity="0.45"/>
<circle cx="613.0" cy="523.0" r="5.8" fill-opacity="0.45"/>
<circle cx="615.5" cy="523.0" r="5.8" fill-opacity="0.45"/>
<circle cx="618.0" cy="523.0" r="5.8" fill-opacity="0.45"/>
<circle cx="620.5" cy="523.0" r="5.8" fill-opacity="0.45"/>
<circle cx="623.0" cy="523.0" r="5.8" fill-opacity="0.45"/>
<circle cx="625.5" cy="523.0" r="5.8" fill-opacity="0.45"/>
<circle cx="628.0" cy="523.0" r="5.8" fill-opacity="0.45"/>
<circle cx="630.5" cy="523.0" r="5.8" fill-opacity="0.45"/>
<circle cx="633.0" cy="523.0" r="5.8" fill-opacity="0.45"/>
<circle cx="633.0" cy="523.0" r="5.8" fill-opacity="0.25"/>
<circle cx="635.0" cy="523.0" r="5.8" fill-opacity="0.25"/>
<circle cx="637.0" cy="523.0" r="5.8" fill-opacity="0.25"/>
<circle cx="574.0" cy="541.6" r="5.8" fill-opacity="0.45"/>
<circle cx="576.5" cy="541.6" r="5.8" fill-opacity="0.45"/>
<circle cx="579.0" cy="541.6" r="5.8" fill-opacity="0.45"/>
<circle cx="581.5" cy="541.6" r="5.8" fill-opacity="0.45"/>
<circle cx="584.0" cy="541.6" r="5.8" fill-opacity="0.45"/>
<circle cx="586.5" cy="541.6" r="5.8" fill-opacity="0.45"/>
<circle cx="589.0" cy="541.6" r="5.8" fill-opacity="0.45"/>
<circle cx="591.5" cy="541.6" r="5.8" fill-opacity="0.45"/>
<circle cx="594.0" cy="541.6" r="5.8" fill-opacity="0.45"/>
<circle cx="596.5" cy="541.6" r="5.8" fill-opacity="0.45"/>
<circle cx="599.0" cy="541.6" r="5.8" fill-opacity="0.45"/>
<circle cx="601.5" cy="541.6" r="5.8" fill-opacity="0.45"/>
<circle cx="604.0" cy="541.6" r="5.8" fill-opacity="0.45"/>
<circle cx="606.5" cy="541.6" r="5.8" fill-opacity="0.45"/>
<circle cx="609.0" cy="541.6" r="5.8" fill-opacity="0.45"/>
<circle cx="611.5" cy="541.6" r="5.8" fill-opacity="0.45"/>
<circle cx="614.0" cy="541.6" r="5.8" fill-opacity="0.45"/>
<circle cx="616.5" cy="541.6" r="5.8" fill-opacity="0.45"/>
<circle cx="619.0" cy="541.6" r="5.8" fill-opacity="0.45"/>
<circle cx="621.5" cy="541.6" r="5.8" fill-opacity="0.45"/>
<circle cx="624.0" cy="541.6" r="5.8" fill-opacity="0.45"/>
<circle cx="626.5" cy="541.6" r="5.8" fill-opacity="0.45"/>
<circle cx="629.0" cy="541.6" r="5.8" fill-opacity="0.45"/>
<circle cx="582.0" cy="606.8" r="5.8" fill-opacity="0.3"/>
<circle cx="585.0" cy="606.8" r="5.8" fill-opacity="0.3"/>
<circle cx="588.0" cy="606.8" r="5.8" fill-opacity="0.3"/>
<circle cx="591.0" cy="606.8" r="5.8" fill-opacity="0.3"/>
<circle cx="594.0" cy="606.8" r="5.8" fill-opacity="0.3"/>
<circle cx="597.0" cy="606.8" r="5.8" fill-opacity="0.3"/>
<circle cx="600.0" cy="606.8" r="5.8" fill-opacity="0.3"/>
<circle cx="600.0" cy="606.8" r="5.8" fill-opacity="0.4"/>
<circle cx="603.0" cy="606.8" r="5.8" fill-opacity="0.4"/>
<circle cx="606.0" cy="606.8" r="5.8" fill-opacity="0.4"/>
<circle cx="609.0" cy="606.8" r="5.8" fill-opacity="0.4"/>
<circle cx="612.0" cy="606.8" r="5.8" fill-opacity="0.4"/>
<circle cx="615.0" cy="606.8" r="5.8" fill-opacity="0.4"/>
<circle cx="618.0" cy="606.8" r="5.8" fill-opacity="0.4"/>
<circle cx="621.0" cy="606.8" r="5.8" fill-opacity="0.4"/>
<circle cx="624.0" cy="606.8" r="5.8" fill-opacity="0.4"/>
<circle cx="627.0" cy="606.8" r="5.8" fill-opacity="0.4"/>
<circle cx="630.0" cy="606.8" r="5.8" fill-opacity="0.4"/>
<circle cx="633.0" cy="606.8" r="5.8" fill-opacity="0.4"/>
<circle cx="636.0" cy="606.8" r="5.8" fill-opacity="0.4"/>
<circle cx="639.0" cy="606.8" r="5.8" fill-opacity="0.4"/>
<circle cx="642.0" cy="606.8" r="5.8" fill-opacity="0.4"/>
<circle cx="645.0" cy="606.8" r="5.8" fill-opacity="0.4"/>
<circle cx="598.0" cy="672.0" r="5.8" fill-opacity="0.45"/>
<circle cx="600.5" cy="672.0" r="5.8" fill-opacity="0.45"/>
<circle cx="603.0" cy="672.0" r="5.8" fill-opacity="0.45"/>
<circle cx="605.5" cy="672.0" r="5.8" fill-opacity="0.45"/>
<circle cx="608.0" cy="672.0" r="5.8" fill-opacity="0.45"/>
<circle cx="610.5" cy="672.0" r="5.8" fill-opacity="0.45"/>
<circle cx="613.0" cy="672.0" r="5.8" fill-opacity="0.45"/>
<circle cx="615.5" cy="672.0" r="5.8" fill-opacity="0.45"/>
<circle cx="618.0" cy="672.0" r="5.8" fill-opacity="0.45"/>
<circle cx="620.5" cy="672.0" r="5.8" fill-opacity="0.45"/>
<circle cx="623.0" cy="672.0" r="5.8" fill-opacity="0.45"/>
<circle cx="625.5" cy="672.0" r="5.8" fill-opacity="0.45"/>
<circle cx="628.0" cy="672.0" r="5.8" fill-opacity="0.45"/>
<circle cx="630.5" cy="672.0" r="5.8" fill-opacity="0.45"/>
<circle cx="633.0" cy="672.0" r="5.8" fill-opacity="0.45"/>
<circle cx="635.5" cy="672.0" r="5.8" fill-opacity="0.45"/>
<circle cx="638.0" cy="672.0" r="5.8" fill-opacity="0.45"/>
<circle cx="640.5" cy="672.0" r="5.8" fill-opacity="0.45"/>
<circle cx="601.0" cy="690.9" r="5.8" fill-opacity="0.45"/>
<circle cx="603.5" cy="690.9" r="5.8" fill-opacity="0.45"/>
<circle cx="606.0" cy="690.9" r="5.8" fill-opacity="0.45"/>
<circle cx="608.5" cy="690.9" r="5.8" fill-opacity="0.45"/>
<circle cx="611.0" cy="690.9" r="5.8" fill-opacity="0.45"/>
<circle cx="613.5" cy="690.9" r="5.8" fill-opacity="0.45"/>
<circle cx="616.0" cy="690.9" r="5.8" fill-opacity="0.45"/>
<circle cx="618.5" cy="690.9" r="5.8" fill-opacity="0.45"/>
<circle cx="621.0" cy="690.9" r="5.8" fill-opacity="0.45"/>
<circle cx="623.5" cy="690.9" r="5.8" fill-opacity="0.45"/>
<circle cx="626.0" cy="690.9" r="5.8" fill-opacity="0.45"/>
<circle cx="628.5" cy="690.9" r="5.8" fill-opacity="0.45"/>
<circle cx="631.0" cy="690.9" r="5.8" fill-opacity="0.45"/>
<circle cx="633.5" cy="690.9" r="5.8" fill-opacity="0.45"/>
<circle cx="636.0" cy="690.9" r="5.8" fill-opacity="0.45"/>
<circle cx="638.5" cy="690.9" r="5.8" fill-opacity="0.45"/>
<circle cx="641.0" cy="690.9" r="5.8" fill-opacity="0.45"/>
<circle cx="606.0" cy="709.8" r="5.8" fill-opacity="0.45"/>
<circle cx="608.5" cy="709.8" r="5.8" fill-opacity="0.45"/>
<circle cx="611.0" cy="709.8" r="5.8" fill-opacity="0.45"/>
<circle cx="613.5" cy="709.8" r="5.8" fill-opacity="0.45"/>
<circle cx="616.0" cy="709.8" r="5.8" fill-opacity="0.45"/>
<circle cx="618.5" cy="709.8" r="5.8" fill-opacity="0.45"/>
<circle cx="621.0" cy="709.8" r="5.8" fill-opacity="0.45"/>
<circle cx="623.5" cy="709.8" r="5.8" fill-opacity="0.45"/>
<circle cx="626.0" cy="709.8" r="5.8" fill-opacity="0.45"/>
<circle cx="628.5" cy="709.8" r="5.8" fill-opacity="0.45"/>
<circle cx="631.0" cy="709.8" r="5.8" fill-opacity="0.45"/>
<circle cx="633.5" cy="709.8" r="5.8" fill-opacity="0.45"/>
<circle cx="636.0" cy="709.8" r="5.8" fill-opacity="0.45"/>
<circle cx="638.5" cy="709.8" r="5.8" fill-opacity="0.45"/>
<circle cx="601.0" cy="727.9" r="5.8" fill-opacity="0.45"/>
<circle cx="603.5" cy="727.9" r="5.8" fill-opacity="0.45"/>
<circle cx="606.0" cy="727.9" r="5.8" fill-opacity="0.45"/>
<circle cx="608.5" cy="727.9" r="5.8" fill-opacity="0.45"/>
<circle cx="611.0" cy="727.9" r="5.8" fill-opacity="0.45"/>
<circle cx="613.5" cy="727.9" r="5.8" fill-opacity="0.45"/>
<circle cx="616.0" cy="727.9" r="5.8" fill-opacity="0.45"/>
<circle cx="618.5" cy="727.9" r="5.8" fill-opacity="0.45"/>
<circle cx="621.0" cy="727.9" r="5.8" fill-opacity="0.45"/>
<circle cx="623.5" cy="727.9" r="5.8" fill-opacity="0.45"/>
<circle cx="626.0" cy="727.9" r="5.8" fill-opacity="0.45"/>
<circle cx="628.5" cy="727.9" r="5.8" fill-opacity="0.45"/>
<circle cx="631.0" cy="727.9" r="5.8" fill-opacity="0.45"/>
<circle cx="633.5" cy="727.9" r="5.8" fill-opacity="0.45"/>
<circle cx="636.0" cy="727.9" r="5.8" fill-opacity="0.45"/>
<circle cx="638.5" cy="727.9" r="5.8" fill-opacity="0.45"/>
<circle cx="641.0" cy="727.9" r="5.8" fill-opacity="0.45"/>
</g></g>
<line x1="518.0" y1="30.0" x2="573.6" y2="30.0" stroke="#257a7e" stroke-width="2"/>
<circle cx="545.8" cy="30.0" r="6.05" fill="#72bcb9" stroke="#257a7e" stroke-width="1.8"/>
<line x1="573.2" y1="30.0" x2="597.2" y2="30.0" stroke="#3b1a63" stroke-width="2"/>
<circle cx="585.2" cy="30.0" r="6.05" fill="#9c7ec4" stroke="#3b1a63" stroke-width="1.8"/>
<line x1="461.9" y1="62.2" x2="527.3" y2="62.2" stroke="#257a7e" stroke-width="2"/>
<circle cx="494.6" cy="62.2" r="6.05" fill="#72bcb9" stroke="#257a7e" stroke-width="1.8"/>
<line x1="523.5" y1="62.2" x2="553.9" y2="62.2" stroke="#3b1a63" stroke-width="2"/>
<circle cx="538.7" cy="62.2" r="6.05" fill="#9c7ec4" stroke="#3b1a63" stroke-width="1.8"/>
<line x1="479.2" y1="94.4" x2="535.6" y2="94.4" stroke="#257a7e" stroke-width="2"/>
<circle cx="507.4" cy="94.4" r="6.05" fill="#72bcb9" stroke="#257a7e" stroke-width="1.8"/>
<line x1="512.0" y1="94.4" x2="543.4" y2="94.4" stroke="#3b1a63" stroke-width="2"/>
<circle cx="527.7" cy="94.4" r="6.05" fill="#9c7ec4" stroke="#3b1a63" stroke-width="1.8"/>
<line x1="499.9" y1="126.7" x2="552.7" y2="126.7" stroke="#257a7e" stroke-width="2"/>
<circle cx="526.3" cy="126.7" r="6.05" fill="#72bcb9" stroke="#257a7e" stroke-width="1.8"/>
<line x1="523.8" y1="126.7" x2="555.0" y2="126.7" stroke="#3b1a63" stroke-width="2"/>
<circle cx="539.4" cy="126.7" r="6.05" fill="#9c7ec4" stroke="#3b1a63" stroke-width="1.8"/>
<line x1="489.7" y1="158.9" x2="542.3" y2="158.9" stroke="#257a7e" stroke-width="2"/>
<circle cx="516.0" cy="158.9" r="6.05" fill="#72bcb9" stroke="#257a7e" stroke-width="1.8"/>
<line x1="502.8" y1="158.9" x2="536.8" y2="158.9" stroke="#3b1a63" stroke-width="2"/>
<circle cx="519.8" cy="158.9" r="6.05" fill="#9c7ec4" stroke="#3b1a63" stroke-width="1.8"/>
<line x1="516.8" y1="191.2" x2="561.2" y2="191.2" stroke="#257a7e" stroke-width="2"/>
<circle cx="539.0" cy="191.2" r="6.05" fill="#72bcb9" stroke="#257a7e" stroke-width="1.8"/>
<line x1="541.7" y1="191.2" x2="564.3" y2="191.2" stroke="#3b1a63" stroke-width="2"/>
<circle cx="553.0" cy="191.2" r="6.05" fill="#9c7ec4" stroke="#3b1a63" stroke-width="1.8"/>
<line x1="506.3" y1="288.5" x2="535.3" y2="288.5" stroke="#257a7e" stroke-width="2"/>
<circle cx="520.8" cy="288.5" r="6.05" fill="#72bcb9" stroke="#257a7e" stroke-width="1.8"/>
<line x1="545.0" y1="288.5" x2="553.0" y2="288.5" stroke="#3b1a63" stroke-width="2"/>
<circle cx="549.0" cy="288.5" r="6.05" fill="#9c7ec4" stroke="#3b1a63" stroke-width="1.8"/>
<line x1="528.7" y1="387.2" x2="564.7" y2="387.2" stroke="#257a7e" stroke-width="2"/>
<circle cx="546.7" cy="387.2" r="6.05" fill="#72bcb9" stroke="#257a7e" stroke-width="1.8"/>
<line x1="563.2" y1="387.2" x2="581.2" y2="387.2" stroke="#3b1a63" stroke-width="2"/>
<circle cx="572.2" cy="387.2" r="6.05" fill="#9c7ec4" stroke="#3b1a63" stroke-width="1.8"/>
<line x1="576.6" y1="513.8" x2="602.2" y2="513.8" stroke="#257a7e" stroke-width="2"/>
<circle cx="589.4" cy="513.8" r="6.05" fill="#72bcb9" stroke="#257a7e" stroke-width="1.8"/>
<line x1="612.9" y1="513.8" x2="618.9" y2="513.8" stroke="#3b1a63" stroke-width="2"/>
<circle cx="615.9" cy="513.8" r="6.05" fill="#9c7ec4" stroke="#3b1a63" stroke-width="1.8"/>
<line x1="583.5" y1="606.8" x2="615.5" y2="606.8" stroke="#257a7e" stroke-width="2"/>
<circle cx="599.5" cy="606.8" r="6.05" fill="#72bcb9" stroke="#257a7e" stroke-width="1.8"/>
<line x1="624.6" y1="606.8" x2="630.6" y2="606.8" stroke="#3b1a63" stroke-width="2"/>
<circle cx="627.6" cy="606.8" r="6.05" fill="#9c7ec4" stroke="#3b1a63" stroke-width="1.8"/>
<line x1="587.5" y1="700.2" x2="611.5" y2="700.2" stroke="#257a7e" stroke-width="2"/>
<circle cx="599.5" cy="700.2" r="6.05" fill="#72bcb9" stroke="#257a7e" stroke-width="1.8"/>
<line x1="622.4" y1="700.2" x2="628.4" y2="700.2" stroke="#3b1a63" stroke-width="2"/>
<circle cx="625.4" cy="700.2" r="6.05" fill="#9c7ec4" stroke="#3b1a63" stroke-width="1.8"/>
<line x1="667.6" y1="198.7" x2="667.6" y2="21.0" stroke="#878787" stroke-width="3.2" stroke-dasharray="9.5 4.85"/>
<line x1="667.6" y1="424.7" x2="667.6" y2="247.5" stroke="#878787" stroke-width="3.2" stroke-dasharray="9.5 4.85"/>
<line x1="667.6" y1="739.5" x2="667.6" y2="474.0" stroke="#878787" stroke-width="3.2" stroke-dasharray="9.5 4.85"/>
<line x1="204" y1="217.3" x2="671" y2="217.3" stroke="#c9c9c9" stroke-width="2"/>
<line x1="204" y1="443.2" x2="671" y2="443.2" stroke="#c9c9c9" stroke-width="2"/>
<line x1="204" y1="758.4" x2="671" y2="758.4" stroke="#c9c9c9" stroke-width="2"/>
<text x="5.40" y="17.0" font-size="19" font-weight="bold" fill="#1a1a1a" textLength="13.95" lengthAdjust="spacingAndGlyphs">A</text>
<text x="5.40" y="243.6" font-size="19" font-weight="bold" fill="#1a1a1a" textLength="14.98" lengthAdjust="spacingAndGlyphs">B</text>
<text x="5.83" y="460.6" font-size="19" font-weight="bold" fill="#1a1a1a" textLength="13.83" lengthAdjust="spacingAndGlyphs">C</text>
<text x="52.53" y="36.8" font-size="19.3" font-weight="normal" fill="#2a2a2a" textLength="120.23" lengthAdjust="spacingAndGlyphs" stroke="#2a2a2a" stroke-width="0.12">Psychometric</text>
<text x="81.79" y="69.5" font-size="19.3" font-weight="normal" fill="#2a2a2a" textLength="90.63" lengthAdjust="spacingAndGlyphs" stroke="#2a2a2a" stroke-width="0.12">Word2Vec</text>
<text x="104.10" y="101.4" font-size="19.3" font-weight="normal" fill="#2a2a2a" textLength="67.26" lengthAdjust="spacingAndGlyphs" stroke="#2a2a2a" stroke-width="0.12">fastText</text>
<text x="117.78" y="133.8" font-size="19.3" font-weight="normal" fill="#2a2a2a" textLength="54.59" lengthAdjust="spacingAndGlyphs" stroke="#2a2a2a" stroke-width="0.12">GloVe</text>
<text x="118.42" y="165.8" font-size="19.3" font-weight="normal" fill="#2a2a2a" textLength="54.42" lengthAdjust="spacingAndGlyphs" stroke="#2a2a2a" stroke-width="0.12">BERT</text>
<text x="105.74" y="197.4" font-size="19.3" font-weight="normal" fill="#2a2a2a" textLength="66.31" lengthAdjust="spacingAndGlyphs" stroke="#2a2a2a" stroke-width="0.12">SWOW</text>
<text x="136.40" y="295.6" font-size="19.3" font-weight="normal" fill="#2a2a2a" textLength="35.38" lengthAdjust="spacingAndGlyphs" stroke="#2a2a2a" stroke-width="0.12">Text</text>
<text x="45.58" y="394.5" font-size="19.3" font-weight="normal" fill="#2a2a2a" textLength="125.83" lengthAdjust="spacingAndGlyphs" stroke="#2a2a2a" stroke-width="0.12">Text &amp; SWOW</text>
<text x="52.61" y="512.1" font-size="19.3" font-weight="normal" fill="#2a2a2a" textLength="119.62" lengthAdjust="spacingAndGlyphs" stroke="#2a2a2a" stroke-width="0.12">Psychometric</text>
<text x="116.79" y="533.0" font-size="19.3" font-weight="normal" fill="#2a2a2a" textLength="54.64" lengthAdjust="spacingAndGlyphs" stroke="#2a2a2a" stroke-width="0.12">&amp; Text</text>
<text x="52.61" y="604.9" font-size="19.3" font-weight="normal" fill="#2a2a2a" textLength="119.62" lengthAdjust="spacingAndGlyphs" stroke="#2a2a2a" stroke-width="0.12">Psychometric</text>
<text x="87.09" y="626.0" font-size="19.3" font-weight="normal" fill="#2a2a2a" textLength="84.09" lengthAdjust="spacingAndGlyphs" stroke="#2a2a2a" stroke-width="0.12">&amp; SWOW</text>
<text transform="translate(110.62,697.8) skewX(-3) translate(-110.62,-697.8)" x="52.62" y="697.8" font-size="19.3" font-weight="normal" fill="#2a2a2a" textLength="119.00" lengthAdjust="spacingAndGlyphs" stroke="#2a2a2a" stroke-width="0.12">Psychometric</text>
<text x="25.49" y="719.0" font-size="19.3" font-weight="normal" fill="#2a2a2a" textLength="145.09" lengthAdjust="spacingAndGlyphs" stroke="#2a2a2a" stroke-width="0.12">&amp; Text &amp; SWOW</text>
<text x="481.50" y="17.8" font-size="10.8" font-weight="normal" fill="#479f9b" textLength="72.05" lengthAdjust="spacingAndGlyphs">Bhatia (2019)</text>
<text x="564.14" y="18.0" font-size="11.1" font-weight="normal" fill="#5a3d88" textLength="96.26" lengthAdjust="spacingAndGlyphs">Basel Risk Norms</text>
<text x="276.68" y="819.6" font-size="20" font-weight="bold" fill="#1a1a1a" textLength="290.50" lengthAdjust="spacingAndGlyphs">10x10-Fold Cross-Validation</text>
<text x="573.82" y="819.6" font-size="19.5" font-style="italic" fill="#1a1a1a" textLength="13.67" lengthAdjust="spacingAndGlyphs">R</text>
<text x="590.50" y="811.3" font-size="14.5" font-weight="normal" fill="#1a1a1a" textLength="9.00" lengthAdjust="spacingAndGlyphs">2</text>
<text x="207.8" y="259.59999999999997" font-size="8.6" text-anchor="start" font-weight="normal" fill="#2a2a2a" stroke="#2a2a2a" stroke-width="0.08">W &amp; F</text>
<text x="207.8" y="272.3" font-size="8.6" text-anchor="start" font-weight="normal" fill="#2a2a2a" stroke="#2a2a2a" stroke-width="0.08">W &amp; G</text>
<text x="207.8" y="284.8" font-size="8.6" text-anchor="start" font-weight="normal" fill="#2a2a2a" stroke="#2a2a2a" stroke-width="0.08">W &amp; B</text>
<text x="207.8" y="297.4" font-size="8.6" text-anchor="start" font-weight="normal" fill="#2a2a2a" stroke="#2a2a2a" stroke-width="0.08">F &amp; G</text>
<text x="207.8" y="310.3" font-size="8.6" text-anchor="start" font-weight="normal" fill="#2a2a2a" stroke="#2a2a2a" stroke-width="0.08">F &amp; B</text>
<text x="207.8" y="323.2" font-size="8.6" text-anchor="start" font-weight="normal" fill="#2a2a2a" stroke="#2a2a2a" stroke-width="0.08">G &amp; B</text>
<text x="207.8" y="360.4" font-size="8.6" text-anchor="start" font-weight="normal" fill="#2a2a2a" stroke="#2a2a2a" stroke-width="0.08">W &amp; S</text>
<text x="207.8" y="380.0" font-size="8.6" text-anchor="start" font-weight="normal" fill="#2a2a2a" stroke="#2a2a2a" stroke-width="0.08">F &amp; S</text>
<text x="207.8" y="399.7" font-size="8.6" text-anchor="start" font-weight="normal" fill="#2a2a2a" stroke="#2a2a2a" stroke-width="0.08">G &amp; S</text>
<text x="207.8" y="419.3" font-size="8.6" text-anchor="start" font-weight="normal" fill="#2a2a2a" stroke="#2a2a2a" stroke-width="0.08">B &amp; S</text>
<text x="207.8" y="488.5" font-size="8.6" text-anchor="start" font-weight="normal" fill="#2a2a2a" stroke="#2a2a2a" stroke-width="0.08">P &amp; W</text>
<text x="207.8" y="506.7" font-size="8.6" text-anchor="start" font-weight="normal" fill="#2a2a2a" stroke="#2a2a2a" stroke-width="0.08">P &amp; F</text>
<text x="207.8" y="525.3000000000001" font-size="8.6" text-anchor="start" font-weight="normal" fill="#2a2a2a" stroke="#2a2a2a" stroke-width="0.08">P &amp; G</text>
<text x="207.8" y="544.1" font-size="8.6" text-anchor="start" font-weight="normal" fill="#2a2a2a" stroke="#2a2a2a" stroke-width="0.08">P &amp; B</text>
<text x="207.8" y="609.6" font-size="8.6" text-anchor="start" font-weight="normal" fill="#2a2a2a" stroke="#2a2a2a" stroke-width="0.08">P &amp; S</text>
<text x="207.8" y="673.2" font-size="8.6" text-anchor="start" font-weight="normal" fill="#2a2a2a" stroke="#2a2a2a" stroke-width="0.08">P &amp; W &amp; S</text>
<text x="207.8" y="692.6" font-size="8.6" text-anchor="start" font-weight="normal" fill="#2a2a2a" stroke="#2a2a2a" stroke-width="0.08">P &amp; F &amp; S</text>
<text x="207.8" y="712.0" font-size="8.6" text-anchor="start" font-weight="normal" fill="#2a2a2a" stroke="#2a2a2a" stroke-width="0.08">P &amp; G &amp; S</text>
<text x="207.8" y="731.8000000000001" font-size="8.6" text-anchor="start" font-weight="normal" fill="#2a2a2a" stroke="#2a2a2a" stroke-width="0.08">P &amp; B &amp; S</text>
<text transform="translate(659.9,110.2) rotate(-90)" font-size="14.8" fill="#333">Max <tspan font-style="italic" dx="-1.2">R</tspan><tspan font-size="10" dy="-6.2" dx="0.6">2</tspan></text>
<text x="204.9" y="787.3" font-size="19.3" text-anchor="middle" font-weight="normal" fill="#1f1f1f" >0.0</text>
<text x="251.4" y="787.3" font-size="19.3" text-anchor="middle" font-weight="normal" fill="#1f1f1f" >0.1</text>
<text x="297.9" y="787.3" font-size="19.3" text-anchor="middle" font-weight="normal" fill="#1f1f1f" >0.2</text>
<text x="344.4" y="787.3" font-size="19.3" text-anchor="middle" font-weight="normal" fill="#1f1f1f" >0.3</text>
<text x="391.0" y="787.3" font-size="19.3" text-anchor="middle" font-weight="normal" fill="#1f1f1f" >0.4</text>
<text x="437.5" y="787.3" font-size="19.3" text-anchor="middle" font-weight="normal" fill="#1f1f1f" >0.5</text>
<text x="484.0" y="787.3" font-size="19.3" text-anchor="middle" font-weight="normal" fill="#1f1f1f" >0.6</text>
<text x="530.5" y="787.3" font-size="19.3" text-anchor="middle" font-weight="normal" fill="#1f1f1f" >0.7</text>
<text x="577.1" y="787.3" font-size="19.3" text-anchor="middle" font-weight="normal" fill="#1f1f1f" >0.8</text>
<text x="623.6" y="787.3" font-size="19.3" text-anchor="middle" font-weight="normal" fill="#1f1f1f" >0.9</text>
<text x="670.1" y="787.3" font-size="19.3" text-anchor="middle" font-weight="normal" fill="#1f1f1f" >1.0</text>
</svg>
</body></html>
